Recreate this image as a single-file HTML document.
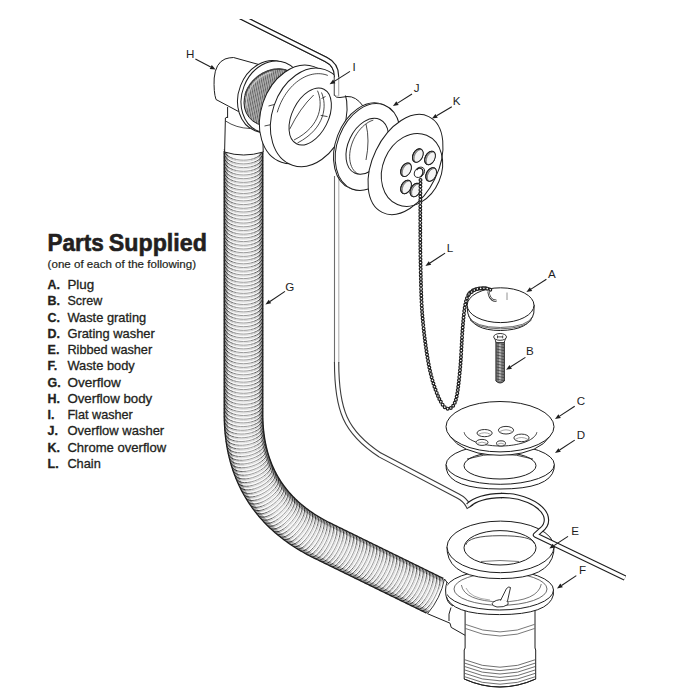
<!DOCTYPE html>
<html><head><meta charset="utf-8"><style>
html,body{margin:0;padding:0;background:#fff;width:700px;height:700px;overflow:hidden;}
svg{display:block;font-family:"Liberation Sans",sans-serif;}
</style></head><body>
<svg width="700" height="700" viewBox="0 0 700 700" font-family="Liberation Sans, sans-serif"><clipPath id="cliptop"><rect x="0" y="19" width="700" height="681"/></clipPath>
<g clip-path="url(#cliptop)"><path d="M233.4,13.1 L326,59.5 Q336.5,64.7 336.5,76 L336.5,95.5" fill="none" stroke="#1e1e1e" stroke-width="5.4" stroke-linejoin="round" stroke-linecap="butt"/><path d="M233.4,13.1 L326,59.5 Q336.5,64.7 336.5,76 L336.5,95.5" fill="none" stroke="#fff" stroke-width="3.2" stroke-linejoin="round" stroke-linecap="butt"/></g>
<path d="M334.5,176 L334.5,363" stroke="#6e6e6e" stroke-width="1.1"/><path d="M338.8,177 L338.8,363" stroke="#b0b0b0" stroke-width="1.1"/>
<g><path d="M336.6,362 C336.6,410 345,432 380,455 L458,496 Q465,499.5 468,505.5 L472,503" fill="none" stroke="#3c3c3c" stroke-width="5.4" stroke-linejoin="miter" stroke-linecap="butt"/><path d="M336.6,362 C336.6,410 345,432 380,455 L458,496 Q465,499.5 468,505.5 L472,503" fill="none" stroke="#fff" stroke-width="3.2" stroke-linejoin="miter" stroke-linecap="butt"/></g>
<path d="M243.50,151.00 L243.50,153.63 L243.50,156.26 L243.50,158.89 L243.50,161.52 L243.50,164.15 L243.50,166.78 L243.50,169.41 L243.50,172.04 L243.50,174.67 L243.50,177.30 L243.50,179.93 L243.50,182.56 L243.50,185.19 L243.50,187.82 L243.50,190.45 L243.50,193.08 L243.50,195.71 L243.50,198.34 L243.50,200.97 L243.50,203.60 L243.50,206.23 L243.50,208.86 L243.50,211.49 L243.50,214.12 L243.50,216.75 L243.50,219.38 L243.50,222.01 L243.50,224.64 L243.50,227.27 L243.50,229.90 L243.50,232.53 L243.50,235.16 L243.50,237.79 L243.50,240.42 L243.50,243.05 L243.50,245.68 L243.50,248.31 L243.50,250.94 L243.50,253.57 L243.50,256.20 L243.50,258.83 L243.50,261.46 L243.50,264.09 L243.50,266.72 L243.50,269.35 L243.50,271.98 L243.50,274.61 L243.50,277.24 L243.50,279.87 L243.50,282.50 L243.50,285.13 L243.50,287.76 L243.50,290.39 L243.50,293.02 L243.50,295.65 L243.50,298.28 L243.50,300.91 L243.50,303.54 L243.50,306.17 L243.50,308.80 L243.50,311.43 L243.50,314.06 L243.50,316.69 L243.50,319.32 L243.50,321.95 L243.50,324.58 L243.50,327.21 L243.50,329.84 L243.50,332.47 L243.50,335.10 L243.50,337.73 L243.50,340.36 L243.50,342.99 L243.50,345.62 L243.50,348.25 L243.50,350.88 L243.50,353.51 L243.50,356.14 L243.50,358.77 L243.50,361.40 L243.50,364.03 L243.50,366.66 L243.50,369.29 L243.50,371.92 L243.50,374.55 L243.50,377.18 L243.50,379.81 L243.50,382.44 L243.50,385.07 L243.50,387.70 L243.50,390.33 L243.50,392.96 L243.50,395.59 L243.50,398.22 L243.50,400.85 L243.50,403.48 L243.50,406.11 L243.50,408.74 L243.50,411.37 L243.50,414.00 L243.51,415.76 L243.53,417.50 L243.57,419.24 L243.63,420.96 L243.70,422.68 L243.78,424.38 L243.89,426.08 L244.01,427.76 L244.14,429.44 L244.29,431.11 L244.46,432.76 L244.64,434.41 L244.84,436.05 L245.05,437.67 L245.28,439.29 L245.52,440.90 L245.78,442.50 L246.06,444.08 L246.35,445.66 L246.66,447.23 L246.98,448.79 L247.32,450.33 L247.68,451.87 L248.05,453.40 L248.44,454.92 L248.84,456.43 L249.26,457.93 L249.70,459.42 L250.15,460.90 L250.61,462.36 L251.09,463.82 L251.59,465.27 L252.11,466.71 L252.64,468.14 L253.18,469.56 L253.74,470.97 L254.32,472.37 L254.91,473.76 L255.52,475.14 L256.14,476.52 L256.78,477.88 L257.44,479.23 L258.11,480.57 L258.80,481.90 L259.50,483.22 L260.22,484.53 L260.96,485.83 L261.71,487.13 L262.47,488.41 L263.26,489.68 L264.05,490.94 L264.87,492.19 L265.70,493.44 L266.54,494.67 L267.40,495.89 L268.28,497.11 L269.17,498.31 L270.08,499.50 L271.01,500.69 L271.95,501.86 L272.90,503.02 L273.88,504.18 L274.86,505.32 L275.87,506.45 L276.89,507.58 L277.92,508.69 L278.97,509.80 L280.04,510.89 L281.12,511.98 L282.22,513.05 L283.34,514.12 L284.47,515.17 L285.61,516.22 L286.77,517.25 L287.95,518.28 L289.14,519.30 L290.35,520.30 L291.58,521.30 L292.82,522.28 L294.08,523.26 L295.35,524.23 L296.64,525.18 L297.94,526.13 L299.26,527.07 L300.59,528.00 L301.95,528.91 L303.31,529.82 L304.70,530.72 L306.09,531.61 L307.51,532.48 L308.94,533.35 L310.39,534.21 L311.85,535.06 L313.33,535.90 L314.82,536.72 L316.33,537.54 L317.85,538.35 L319.39,539.15 L320.95,539.94 L322.52,540.72 L323.66,541.28 L324.79,541.83 L325.93,542.39 L327.06,542.94 L328.20,543.50 L329.33,544.06 L330.47,544.61 L331.60,545.17 L332.74,545.72 L333.87,546.28 L335.01,546.84 L336.14,547.39 L337.28,547.95 L338.41,548.50 L339.55,549.06 L340.68,549.62 L341.81,550.17 L342.95,550.73 L344.08,551.28 L345.22,551.84 L346.35,552.40 L347.49,552.95 L348.62,553.51 L349.76,554.06 L350.89,554.62 L352.03,555.18 L353.16,555.73 L354.30,556.29 L355.43,556.84 L356.57,557.40 L357.70,557.96 L358.84,558.51 L359.97,559.07 L361.11,559.62 L362.24,560.18 L363.38,560.74 L364.51,561.29 L365.64,561.85 L366.78,562.40 L367.91,562.96 L369.05,563.52 L370.18,564.07 L371.32,564.63 L372.45,565.18 L373.59,565.74 L374.72,566.30 L375.86,566.85 L376.99,567.41 L378.13,567.96 L379.26,568.52 L380.40,569.08 L381.53,569.63 L382.67,570.19 L383.80,570.74 L384.94,571.30 L386.07,571.86 L387.21,572.41 L388.34,572.97 L389.47,573.52 L390.61,574.08 L391.74,574.64 L392.88,575.19 L394.01,575.75 L395.15,576.30 L396.28,576.86 L397.42,577.42 L398.55,577.97 L399.69,578.53 L400.82,579.08 L401.96,579.64 L403.09,580.20 L404.23,580.75 L405.36,581.31 L406.50,581.86 L407.63,582.42 L408.77,582.98 L409.90,583.53 L411.04,584.09 L412.17,584.64 L413.30,585.20 L414.44,585.76 L415.57,586.31 L416.71,586.87 L417.84,587.42 L418.98,587.98 L420.11,588.54 L421.25,589.09 L422.38,589.65 L423.52,590.20 L424.65,590.76 L425.79,591.32 L426.92,591.87 L428.06,592.43 L429.19,592.98 L430.33,593.54 L431.46,594.10 L432.60,594.65 L433.73,595.21 L434.87,595.76 L436.00,596.32" fill="none" stroke="#f7f7f7" stroke-width="38.6"/>
<path d="M224.20,150.50 C225.16,165.17 261.84,165.17 262.80,150.50 M224.20,154.20 C225.16,168.87 261.84,168.87 262.80,154.20 M224.20,157.90 C225.16,172.57 261.84,172.57 262.80,157.90 M224.20,161.60 C225.16,176.27 261.84,176.27 262.80,161.60 M224.20,165.30 C225.16,179.97 261.84,179.97 262.80,165.30 M224.20,169.00 C225.16,183.67 261.84,183.67 262.80,169.00 M224.20,172.70 C225.16,187.37 261.84,187.37 262.80,172.70 M224.20,176.40 C225.16,191.07 261.84,191.07 262.80,176.40 M224.20,180.10 C225.16,194.77 261.84,194.77 262.80,180.10 M224.20,183.80 C225.16,198.47 261.84,198.47 262.80,183.80 M224.20,187.50 C225.16,202.17 261.84,202.17 262.80,187.50 M224.20,191.20 C225.16,205.87 261.84,205.87 262.80,191.20 M224.20,194.90 C225.16,209.57 261.84,209.57 262.80,194.90 M224.20,198.60 C225.16,213.27 261.84,213.27 262.80,198.60 M224.20,202.30 C225.16,216.97 261.84,216.97 262.80,202.30 M224.20,206.00 C225.16,220.67 261.84,220.67 262.80,206.00 M224.20,209.70 C225.16,224.37 261.84,224.37 262.80,209.70 M224.20,213.40 C225.16,228.07 261.84,228.07 262.80,213.40 M224.20,217.10 C225.16,231.77 261.84,231.77 262.80,217.10 M224.20,220.80 C225.16,235.47 261.84,235.47 262.80,220.80 M224.20,224.50 C225.16,239.17 261.84,239.17 262.80,224.50 M224.20,228.20 C225.16,242.87 261.84,242.87 262.80,228.20 M224.20,231.90 C225.16,246.57 261.84,246.57 262.80,231.90 M224.20,235.60 C225.16,250.27 261.84,250.27 262.80,235.60 M224.20,239.30 C225.16,253.97 261.84,253.97 262.80,239.30 M224.20,243.00 C225.16,257.67 261.84,257.67 262.80,243.00 M224.20,246.70 C225.16,261.37 261.84,261.37 262.80,246.70 M224.20,250.40 C225.16,265.07 261.84,265.07 262.80,250.40 M224.20,254.10 C225.16,268.77 261.84,268.77 262.80,254.10 M224.20,257.80 C225.16,272.47 261.84,272.47 262.80,257.80 M224.20,261.50 C225.16,276.17 261.84,276.17 262.80,261.50 M224.20,265.20 C225.16,279.87 261.84,279.87 262.80,265.20 M224.20,268.90 C225.16,283.57 261.84,283.57 262.80,268.90 M224.20,272.60 C225.16,287.27 261.84,287.27 262.80,272.60 M224.20,276.30 C225.16,290.97 261.84,290.97 262.80,276.30 M224.20,280.00 C225.16,294.67 261.84,294.67 262.80,280.00 M224.20,283.70 C225.16,298.37 261.84,298.37 262.80,283.70 M224.20,287.40 C225.16,302.07 261.84,302.07 262.80,287.40 M224.20,291.10 C225.16,305.77 261.84,305.77 262.80,291.10 M224.20,294.80 C225.16,309.47 261.84,309.47 262.80,294.80 M224.20,298.50 C225.16,313.17 261.84,313.17 262.80,298.50 M224.20,302.20 C225.16,316.87 261.84,316.87 262.80,302.20 M224.20,305.90 C225.16,320.57 261.84,320.57 262.80,305.90 M224.20,309.60 C225.16,324.27 261.84,324.27 262.80,309.60 M224.20,313.30 C225.16,327.97 261.84,327.97 262.80,313.30 M224.20,317.00 C225.16,331.67 261.84,331.67 262.80,317.00 M224.20,320.70 C225.16,335.37 261.84,335.37 262.80,320.70 M224.20,324.40 C225.16,339.07 261.84,339.07 262.80,324.40 M224.20,328.10 C225.16,342.77 261.84,342.77 262.80,328.10 M224.20,331.80 C225.16,346.47 261.84,346.47 262.80,331.80 M224.20,335.50 C225.16,350.17 261.84,350.17 262.80,335.50 M224.20,339.20 C225.16,353.87 261.84,353.87 262.80,339.20 M224.20,342.90 C225.16,357.57 261.84,357.57 262.80,342.90 M224.20,346.60 C225.16,361.27 261.84,361.27 262.80,346.60 M224.20,350.30 C225.16,364.97 261.84,364.97 262.80,350.30 M224.20,354.00 C225.16,368.67 261.84,368.67 262.80,354.00 M224.20,357.70 C225.16,372.37 261.84,372.37 262.80,357.70 M224.20,361.40 C225.16,376.07 261.84,376.07 262.80,361.40 M224.20,365.10 C225.16,379.77 261.84,379.77 262.80,365.10 M224.20,368.80 C225.16,383.47 261.84,383.47 262.80,368.80 M224.20,372.50 C225.16,387.17 261.84,387.17 262.80,372.50 M224.20,376.20 C225.16,390.87 261.84,390.87 262.80,376.20 M224.20,379.90 C225.16,394.57 261.84,394.57 262.80,379.90 M224.20,383.60 C225.16,398.27 261.84,398.27 262.80,383.60 M224.20,387.30 C225.16,401.97 261.84,401.97 262.80,387.30 M224.20,391.00 C225.16,405.67 261.84,405.67 262.80,391.00 M224.20,394.70 C225.16,409.37 261.84,409.37 262.80,394.70 M224.20,398.40 C225.16,413.07 261.84,413.07 262.80,398.40 M224.20,402.10 C225.16,416.77 261.84,416.77 262.80,402.10 M224.20,405.80 C225.16,420.47 261.84,420.47 262.80,405.80 M224.20,409.50 C225.16,424.17 261.84,424.17 262.80,409.50 M224.16,413.52 C225.37,428.17 262.04,427.56 262.76,412.88 M224.19,417.64 C225.71,432.25 262.35,430.85 262.76,416.17 M224.30,421.71 C226.10,436.28 262.71,434.18 262.84,419.50 M224.49,425.85 C226.62,440.36 263.17,437.43 262.97,422.77 M224.77,429.93 C227.19,444.38 263.68,440.72 263.18,426.09 M225.14,434.09 C227.90,448.44 264.29,443.92 263.45,429.33 M225.61,438.24 C228.71,452.49 264.98,447.09 263.79,432.56 M226.17,442.40 C229.62,456.53 265.74,450.23 264.20,435.77 M226.84,446.55 C230.63,460.54 266.58,453.34 264.69,438.97 M227.62,450.70 C231.75,464.53 267.51,456.40 265.26,442.15 M228.50,454.84 C232.98,468.49 268.51,459.43 265.90,445.30 M229.49,458.96 C234.31,472.42 269.59,462.42 266.63,448.43 M230.60,463.07 C235.76,476.31 270.76,465.36 267.44,451.54 M231.83,467.16 C237.32,480.17 272.00,468.25 268.34,454.62 M233.18,471.22 C238.99,483.97 273.32,471.10 269.32,457.67 M234.66,475.33 C240.83,487.77 274.74,473.80 270.35,460.62 M236.25,479.32 C242.72,491.47 276.22,476.55 271.51,463.60 M237.98,483.35 C244.79,495.15 277.78,479.14 272.71,466.49 M239.82,487.25 C246.90,498.73 279.41,481.77 274.04,469.39 M241.78,491.09 C249.11,502.23 281.12,484.34 275.47,472.26 M243.89,494.97 C251.50,505.70 282.89,486.75 276.94,475.02 M246.09,498.69 C253.92,509.06 284.75,489.21 278.54,477.79 M248.44,502.43 C256.50,512.37 286.65,491.50 280.18,480.46 M250.87,506.01 C259.11,515.57 288.64,493.84 281.96,483.13 M253.41,509.51 C261.80,518.69 290.70,496.11 283.83,485.75 M256.10,513.01 C264.65,521.74 292.79,498.23 285.73,488.27 M258.85,516.35 C267.51,524.68 294.97,500.38 287.76,490.77 M261.70,519.60 C270.45,527.54 297.22,502.47 289.87,493.22 M264.69,522.83 C273.52,530.32 299.48,504.42 292.01,495.57 M267.71,525.90 C276.60,533.00 301.83,506.39 294.28,497.90 M270.82,528.88 C279.73,535.59 304.24,508.31 296.62,500.16 M274.01,531.76 C282.93,538.09 306.70,510.17 299.03,502.37 M277.26,534.55 C286.18,540.51 309.21,511.97 301.51,504.51 M280.59,537.24 C289.48,542.84 311.77,513.72 304.05,506.59 M283.97,539.84 C292.83,545.08 314.38,515.41 306.65,508.61 M287.41,542.35 C296.22,547.25 317.03,517.05 309.32,510.57 M290.91,544.77 C299.65,549.33 319.72,518.64 312.03,512.46 M294.45,547.10 C303.12,551.34 322.45,520.18 314.80,514.30 M297.97,549.29 C306.57,553.27 325.28,521.73 317.67,516.09 M301.60,551.44 C310.10,555.12 328.09,523.17 320.54,517.81 M305.20,553.47 C313.61,556.90 330.99,524.62 323.50,519.49 M308.90,555.46 C317.19,558.62 333.87,525.96 326.45,521.09 M312.53,557.32 C320.74,560.26 336.87,527.33 329.51,522.65 M315.85,558.94 C324.06,561.89 340.20,528.96 332.84,524.28 M319.18,560.57 C327.38,563.52 343.52,530.59 336.16,525.91 M322.50,562.20 C330.71,565.15 346.84,532.22 339.48,527.54 M325.82,563.83 C334.03,566.77 350.16,533.84 342.80,529.16 M329.14,565.46 C337.35,568.40 353.49,535.47 346.13,530.79 M332.47,567.08 C340.67,570.03 356.81,537.10 349.45,532.42 M335.79,568.71 C344.00,571.66 360.13,538.73 352.77,534.05 M339.11,570.34 C347.32,573.29 363.45,540.36 356.10,535.68 M342.43,571.97 C350.64,574.91 366.78,541.98 359.42,537.30 M345.76,573.60 C353.96,576.54 370.10,543.61 362.74,538.93 M349.08,575.22 C357.29,578.17 373.42,545.24 366.06,540.56 M352.40,576.85 C360.61,579.80 376.74,546.87 369.39,542.19 M355.72,578.48 C363.93,581.43 380.07,548.50 372.71,543.82 M359.05,580.11 C367.25,583.05 383.39,550.12 376.03,545.44 M362.37,581.74 C370.58,584.68 386.71,551.75 379.35,547.07 M365.69,583.36 C373.90,586.31 390.03,553.38 382.68,548.70 M369.01,584.99 C377.22,587.94 393.36,555.01 386.00,550.33 M372.34,586.62 C380.54,589.57 396.68,556.64 389.32,551.96 M375.66,588.25 C383.87,591.19 400.00,558.26 392.64,553.58 M378.98,589.88 C387.19,592.82 403.32,559.89 395.97,555.21 M382.30,591.50 C390.51,594.45 406.65,561.52 399.29,556.84 M385.63,593.13 C393.83,596.08 409.97,563.15 402.61,558.47 M388.95,594.76 C397.16,597.71 413.29,564.78 405.93,560.10 M392.27,596.39 C400.48,599.33 416.61,566.40 409.26,561.72 M395.60,598.02 C403.80,600.96 419.94,568.03 412.58,563.35 M398.92,599.64 C407.13,602.59 423.26,569.66 415.90,564.98 M402.24,601.27 C410.45,604.22 426.58,571.29 419.22,566.61 M405.56,602.90 C413.77,605.85 429.91,572.92 422.55,568.24 M408.89,604.53 C417.09,607.47 433.23,574.54 425.87,569.86 M412.21,606.16 C420.42,609.10 436.55,576.17 429.19,571.49 M415.53,607.78 C423.74,610.73 439.87,577.80 432.51,573.12 M418.85,609.41 C427.06,612.36 443.20,579.43 435.84,574.75 M422.18,611.04 C430.38,613.99 446.52,581.06 439.16,576.38 M425.50,612.67 C433.71,615.61 449.84,582.68 442.48,578.00" fill="none" stroke="#a8a8a8" stroke-width="0.8"/>
<path d="M224.20,149.20 C225.16,163.87 261.84,163.87 262.80,149.20 M224.20,152.90 C225.16,167.57 261.84,167.57 262.80,152.90 M224.20,156.60 C225.16,171.27 261.84,171.27 262.80,156.60 M224.20,160.30 C225.16,174.97 261.84,174.97 262.80,160.30 M224.20,164.00 C225.16,178.67 261.84,178.67 262.80,164.00 M224.20,167.70 C225.16,182.37 261.84,182.37 262.80,167.70 M224.20,171.40 C225.16,186.07 261.84,186.07 262.80,171.40 M224.20,175.10 C225.16,189.77 261.84,189.77 262.80,175.10 M224.20,178.80 C225.16,193.47 261.84,193.47 262.80,178.80 M224.20,182.50 C225.16,197.17 261.84,197.17 262.80,182.50 M224.20,186.20 C225.16,200.87 261.84,200.87 262.80,186.20 M224.20,189.90 C225.16,204.57 261.84,204.57 262.80,189.90 M224.20,193.60 C225.16,208.27 261.84,208.27 262.80,193.60 M224.20,197.30 C225.16,211.97 261.84,211.97 262.80,197.30 M224.20,201.00 C225.16,215.67 261.84,215.67 262.80,201.00 M224.20,204.70 C225.16,219.37 261.84,219.37 262.80,204.70 M224.20,208.40 C225.16,223.07 261.84,223.07 262.80,208.40 M224.20,212.10 C225.16,226.77 261.84,226.77 262.80,212.10 M224.20,215.80 C225.16,230.47 261.84,230.47 262.80,215.80 M224.20,219.50 C225.16,234.17 261.84,234.17 262.80,219.50 M224.20,223.20 C225.16,237.87 261.84,237.87 262.80,223.20 M224.20,226.90 C225.16,241.57 261.84,241.57 262.80,226.90 M224.20,230.60 C225.16,245.27 261.84,245.27 262.80,230.60 M224.20,234.30 C225.16,248.97 261.84,248.97 262.80,234.30 M224.20,238.00 C225.16,252.67 261.84,252.67 262.80,238.00 M224.20,241.70 C225.16,256.37 261.84,256.37 262.80,241.70 M224.20,245.40 C225.16,260.07 261.84,260.07 262.80,245.40 M224.20,249.10 C225.16,263.77 261.84,263.77 262.80,249.10 M224.20,252.80 C225.16,267.47 261.84,267.47 262.80,252.80 M224.20,256.50 C225.16,271.17 261.84,271.17 262.80,256.50 M224.20,260.20 C225.16,274.87 261.84,274.87 262.80,260.20 M224.20,263.90 C225.16,278.57 261.84,278.57 262.80,263.90 M224.20,267.60 C225.16,282.27 261.84,282.27 262.80,267.60 M224.20,271.30 C225.16,285.97 261.84,285.97 262.80,271.30 M224.20,275.00 C225.16,289.67 261.84,289.67 262.80,275.00 M224.20,278.70 C225.16,293.37 261.84,293.37 262.80,278.70 M224.20,282.40 C225.16,297.07 261.84,297.07 262.80,282.40 M224.20,286.10 C225.16,300.77 261.84,300.77 262.80,286.10 M224.20,289.80 C225.16,304.47 261.84,304.47 262.80,289.80 M224.20,293.50 C225.16,308.17 261.84,308.17 262.80,293.50 M224.20,297.20 C225.16,311.87 261.84,311.87 262.80,297.20 M224.20,300.90 C225.16,315.57 261.84,315.57 262.80,300.90 M224.20,304.60 C225.16,319.27 261.84,319.27 262.80,304.60 M224.20,308.30 C225.16,322.97 261.84,322.97 262.80,308.30 M224.20,312.00 C225.16,326.67 261.84,326.67 262.80,312.00 M224.20,315.70 C225.16,330.37 261.84,330.37 262.80,315.70 M224.20,319.40 C225.16,334.07 261.84,334.07 262.80,319.40 M224.20,323.10 C225.16,337.77 261.84,337.77 262.80,323.10 M224.20,326.80 C225.16,341.47 261.84,341.47 262.80,326.80 M224.20,330.50 C225.16,345.17 261.84,345.17 262.80,330.50 M224.20,334.20 C225.16,348.87 261.84,348.87 262.80,334.20 M224.20,337.90 C225.16,352.57 261.84,352.57 262.80,337.90 M224.20,341.60 C225.16,356.27 261.84,356.27 262.80,341.60 M224.20,345.30 C225.16,359.97 261.84,359.97 262.80,345.30 M224.20,349.00 C225.16,363.67 261.84,363.67 262.80,349.00 M224.20,352.70 C225.16,367.37 261.84,367.37 262.80,352.70 M224.20,356.40 C225.16,371.07 261.84,371.07 262.80,356.40 M224.20,360.10 C225.16,374.77 261.84,374.77 262.80,360.10 M224.20,363.80 C225.16,378.47 261.84,378.47 262.80,363.80 M224.20,367.50 C225.16,382.17 261.84,382.17 262.80,367.50 M224.20,371.20 C225.16,385.87 261.84,385.87 262.80,371.20 M224.20,374.90 C225.16,389.57 261.84,389.57 262.80,374.90 M224.20,378.60 C225.16,393.27 261.84,393.27 262.80,378.60 M224.20,382.30 C225.16,396.97 261.84,396.97 262.80,382.30 M224.20,386.00 C225.16,400.67 261.84,400.67 262.80,386.00 M224.20,389.70 C225.16,404.37 261.84,404.37 262.80,389.70 M224.20,393.40 C225.16,408.07 261.84,408.07 262.80,393.40 M224.20,397.10 C225.16,411.77 261.84,411.77 262.80,397.10 M224.20,400.80 C225.16,415.47 261.84,415.47 262.80,400.80 M224.20,404.50 C225.16,419.17 261.84,419.17 262.80,404.50 M224.20,408.20 C225.16,422.87 261.84,422.87 262.80,408.20 M224.14,412.22 C225.35,426.87 262.01,426.26 262.74,411.58 M224.14,416.34 C225.66,430.96 262.30,429.55 262.71,414.87 M224.23,420.41 C226.03,434.98 262.64,432.88 262.76,418.20 M224.38,424.56 C226.52,439.07 263.07,436.14 262.86,421.47 M224.64,428.64 C227.06,443.09 263.55,439.43 263.05,424.79 M224.98,432.80 C227.74,447.15 264.13,442.63 263.29,428.04 M225.42,436.96 C228.51,451.21 264.78,445.81 263.60,431.27 M225.95,441.12 C229.39,455.25 265.52,448.95 263.98,434.49 M226.59,445.28 C230.37,459.27 266.33,452.06 264.43,437.70 M227.33,449.43 C231.46,463.26 267.22,455.14 264.97,440.88 M228.18,453.58 C232.65,467.23 268.19,458.17 265.58,444.04 M229.14,457.71 C233.96,471.17 269.24,461.17 266.28,447.18 M230.22,461.83 C235.37,475.07 270.37,464.12 267.05,450.30 M231.41,465.93 C236.90,478.94 271.58,467.02 267.91,453.39 M232.72,470.00 C238.53,482.75 272.87,469.88 268.86,456.45 M234.16,474.12 C240.33,486.57 274.24,472.60 269.85,459.42 M235.72,478.13 C242.19,490.28 275.69,475.36 270.98,462.42 M237.42,482.18 C244.22,493.98 277.21,477.97 272.14,465.32 M239.22,486.09 C246.30,497.57 278.81,480.61 273.44,468.24 M241.14,489.96 C248.48,501.10 280.49,483.20 274.83,471.12 M243.22,493.85 C250.83,504.59 282.22,485.64 276.26,473.91 M245.38,497.60 C253.21,507.97 284.04,488.12 277.84,476.70 M247.70,501.36 C255.76,511.30 285.91,490.44 279.44,479.39 M250.10,504.96 C258.33,514.52 287.87,492.79 281.19,482.08 M252.61,508.49 C261.00,517.66 289.90,495.09 283.03,484.72 M255.27,512.02 C263.82,520.74 291.96,497.23 284.89,487.27 M257.99,515.38 C266.65,523.71 294.11,499.41 286.90,489.80 M260.81,518.65 C269.56,526.59 296.33,501.52 288.98,492.27 M263.77,521.91 C272.60,529.40 298.56,503.49 291.09,494.65 M266.77,525.01 C275.65,532.10 300.89,505.50 293.34,497.00 M269.86,528.01 C278.77,534.72 303.27,507.44 295.65,499.29 M273.02,530.92 C281.94,537.25 305.71,509.32 298.04,501.52 M276.25,533.73 C285.17,539.69 308.20,511.15 300.50,503.69 M279.56,536.45 C288.45,542.05 310.74,512.93 303.02,505.80 M282.92,539.08 C291.78,544.32 313.33,514.65 305.60,507.85 M286.34,541.61 C295.15,546.51 315.96,516.32 308.25,509.83 M289.82,544.06 C298.56,548.62 318.63,517.93 310.95,511.75 M293.35,546.41 C302.01,550.65 321.35,519.50 313.70,513.61 M296.86,548.63 C305.45,552.60 324.16,521.07 316.56,515.43 M300.47,550.81 C308.97,554.48 326.96,522.53 319.41,517.17 M304.06,552.86 C312.47,556.29 329.85,524.00 322.36,518.87 M307.74,554.87 C316.04,558.02 332.72,525.37 325.30,520.49 M311.36,556.74 C319.57,559.69 335.71,526.76 328.35,522.08 M314.69,558.37 C322.89,561.32 339.03,528.39 331.67,523.71 M318.01,560.00 C326.22,562.95 342.35,530.02 334.99,525.34 M321.33,561.63 C329.54,564.57 345.67,531.64 338.31,526.96 M324.65,563.26 C332.86,566.20 349.00,533.27 341.64,528.59 M327.98,564.88 C336.18,567.83 352.32,534.90 344.96,530.22 M331.30,566.51 C339.51,569.46 355.64,536.53 348.28,531.85 M334.62,568.14 C342.83,571.09 358.96,538.16 351.61,533.48 M337.94,569.77 C346.15,572.71 362.29,539.78 354.93,535.10 M341.27,571.40 C349.47,574.34 365.61,541.41 358.25,536.73 M344.59,573.02 C352.80,575.97 368.93,543.04 361.57,538.36 M347.91,574.65 C356.12,577.60 372.25,544.67 364.90,539.99 M351.23,576.28 C359.44,579.23 375.58,546.30 368.22,541.62 M354.56,577.91 C362.76,580.85 378.90,547.92 371.54,543.24 M357.88,579.54 C366.09,582.48 382.22,549.55 374.86,544.87 M361.20,581.16 C369.41,584.11 385.54,551.18 378.19,546.50 M364.52,582.79 C372.73,585.74 388.87,552.81 381.51,548.13 M367.85,584.42 C376.05,587.37 392.19,554.44 384.83,549.76 M371.17,586.05 C379.38,588.99 395.51,556.06 388.15,551.38 M374.49,587.68 C382.70,590.62 398.83,557.69 391.48,553.01 M377.81,589.30 C386.02,592.25 402.16,559.32 394.80,554.64 M381.14,590.93 C389.34,593.88 405.48,560.95 398.12,556.27 M384.46,592.56 C392.67,595.51 408.80,562.58 401.44,557.90 M387.78,594.19 C395.99,597.13 412.12,564.20 404.77,559.52 M391.11,595.82 C399.31,598.76 415.45,565.83 408.09,561.15 M394.43,597.44 C402.64,600.39 418.77,567.46 411.41,562.78 M397.75,599.07 C405.96,602.02 422.09,569.09 414.73,564.41 M401.07,600.70 C409.28,603.65 425.42,570.72 418.06,566.04 M404.40,602.33 C412.60,605.27 428.74,572.34 421.38,567.66 M407.72,603.96 C415.93,606.90 432.06,573.97 424.70,569.29 M411.04,605.58 C419.25,608.53 435.38,575.60 428.02,570.92 M414.36,607.21 C422.57,610.16 438.71,577.23 431.35,572.55 M417.69,608.84 C425.89,611.79 442.03,578.86 434.67,574.18 M421.01,610.47 C429.22,613.41 445.35,580.48 437.99,575.80 M424.33,612.10 C432.54,615.04 448.67,582.11 441.32,577.43" fill="none" stroke="#262626" stroke-width="0.9"/>
<path d="M243.50,151.00 L243.50,153.63 L243.50,156.26 L243.50,158.89 L243.50,161.52 L243.50,164.15 L243.50,166.78 L243.50,169.41 L243.50,172.04 L243.50,174.67 L243.50,177.30 L243.50,179.93 L243.50,182.56 L243.50,185.19 L243.50,187.82 L243.50,190.45 L243.50,193.08 L243.50,195.71 L243.50,198.34 L243.50,200.97 L243.50,203.60 L243.50,206.23 L243.50,208.86 L243.50,211.49 L243.50,214.12 L243.50,216.75 L243.50,219.38 L243.50,222.01 L243.50,224.64 L243.50,227.27 L243.50,229.90 L243.50,232.53 L243.50,235.16 L243.50,237.79 L243.50,240.42 L243.50,243.05 L243.50,245.68 L243.50,248.31 L243.50,250.94 L243.50,253.57 L243.50,256.20 L243.50,258.83 L243.50,261.46 L243.50,264.09 L243.50,266.72 L243.50,269.35 L243.50,271.98 L243.50,274.61 L243.50,277.24 L243.50,279.87 L243.50,282.50 L243.50,285.13 L243.50,287.76 L243.50,290.39 L243.50,293.02 L243.50,295.65 L243.50,298.28 L243.50,300.91 L243.50,303.54 L243.50,306.17 L243.50,308.80 L243.50,311.43 L243.50,314.06 L243.50,316.69 L243.50,319.32 L243.50,321.95 L243.50,324.58 L243.50,327.21 L243.50,329.84 L243.50,332.47 L243.50,335.10 L243.50,337.73 L243.50,340.36 L243.50,342.99 L243.50,345.62 L243.50,348.25 L243.50,350.88 L243.50,353.51 L243.50,356.14 L243.50,358.77 L243.50,361.40 L243.50,364.03 L243.50,366.66 L243.50,369.29 L243.50,371.92 L243.50,374.55 L243.50,377.18 L243.50,379.81 L243.50,382.44 L243.50,385.07 L243.50,387.70 L243.50,390.33 L243.50,392.96 L243.50,395.59 L243.50,398.22 L243.50,400.85 L243.50,403.48 L243.50,406.11 L243.50,408.74 L243.50,411.37 L243.50,414.00 L243.51,415.76 L243.53,417.50 L243.57,419.24 L243.63,420.96 L243.70,422.68 L243.78,424.38 L243.89,426.08 L244.01,427.76 L244.14,429.44 L244.29,431.11 L244.46,432.76 L244.64,434.41 L244.84,436.05 L245.05,437.67 L245.28,439.29 L245.52,440.90 L245.78,442.50 L246.06,444.08 L246.35,445.66 L246.66,447.23 L246.98,448.79 L247.32,450.33 L247.68,451.87 L248.05,453.40 L248.44,454.92 L248.84,456.43 L249.26,457.93 L249.70,459.42 L250.15,460.90 L250.61,462.36 L251.09,463.82 L251.59,465.27 L252.11,466.71 L252.64,468.14 L253.18,469.56 L253.74,470.97 L254.32,472.37 L254.91,473.76 L255.52,475.14 L256.14,476.52 L256.78,477.88 L257.44,479.23 L258.11,480.57 L258.80,481.90 L259.50,483.22 L260.22,484.53 L260.96,485.83 L261.71,487.13 L262.47,488.41 L263.26,489.68 L264.05,490.94 L264.87,492.19 L265.70,493.44 L266.54,494.67 L267.40,495.89 L268.28,497.11 L269.17,498.31 L270.08,499.50 L271.01,500.69 L271.95,501.86 L272.90,503.02 L273.88,504.18 L274.86,505.32 L275.87,506.45 L276.89,507.58 L277.92,508.69 L278.97,509.80 L280.04,510.89 L281.12,511.98 L282.22,513.05 L283.34,514.12 L284.47,515.17 L285.61,516.22 L286.77,517.25 L287.95,518.28 L289.14,519.30 L290.35,520.30 L291.58,521.30 L292.82,522.28 L294.08,523.26 L295.35,524.23 L296.64,525.18 L297.94,526.13 L299.26,527.07 L300.59,528.00 L301.95,528.91 L303.31,529.82 L304.70,530.72 L306.09,531.61 L307.51,532.48 L308.94,533.35 L310.39,534.21 L311.85,535.06 L313.33,535.90 L314.82,536.72 L316.33,537.54 L317.85,538.35 L319.39,539.15 L320.95,539.94 L322.52,540.72 L323.66,541.28 L324.79,541.83 L325.93,542.39 L327.06,542.94 L328.20,543.50 L329.33,544.06 L330.47,544.61 L331.60,545.17 L332.74,545.72 L333.87,546.28 L335.01,546.84 L336.14,547.39 L337.28,547.95 L338.41,548.50 L339.55,549.06 L340.68,549.62 L341.81,550.17 L342.95,550.73 L344.08,551.28 L345.22,551.84 L346.35,552.40 L347.49,552.95 L348.62,553.51 L349.76,554.06 L350.89,554.62 L352.03,555.18 L353.16,555.73 L354.30,556.29 L355.43,556.84 L356.57,557.40 L357.70,557.96 L358.84,558.51 L359.97,559.07 L361.11,559.62 L362.24,560.18 L363.38,560.74 L364.51,561.29 L365.64,561.85 L366.78,562.40 L367.91,562.96 L369.05,563.52 L370.18,564.07 L371.32,564.63 L372.45,565.18 L373.59,565.74 L374.72,566.30 L375.86,566.85 L376.99,567.41 L378.13,567.96 L379.26,568.52 L380.40,569.08 L381.53,569.63 L382.67,570.19 L383.80,570.74 L384.94,571.30 L386.07,571.86 L387.21,572.41 L388.34,572.97 L389.47,573.52 L390.61,574.08 L391.74,574.64 L392.88,575.19 L394.01,575.75 L395.15,576.30 L396.28,576.86 L397.42,577.42 L398.55,577.97 L399.69,578.53 L400.82,579.08 L401.96,579.64 L403.09,580.20 L404.23,580.75 L405.36,581.31 L406.50,581.86 L407.63,582.42 L408.77,582.98 L409.90,583.53 L411.04,584.09 L412.17,584.64 L413.30,585.20 L414.44,585.76 L415.57,586.31 L416.71,586.87 L417.84,587.42 L418.98,587.98 L420.11,588.54 L421.25,589.09 L422.38,589.65 L423.52,590.20 L424.65,590.76 L425.79,591.32 L426.92,591.87 L428.06,592.43 L429.19,592.98 L430.33,593.54 L431.46,594.10 L432.60,594.65 L433.73,595.21 L434.87,595.76 L436.00,596.32" fill="none" stroke="#fff" stroke-opacity="0.2" stroke-width="30"/>
<path d="M243.50,151.00 L243.50,153.63 L243.50,156.26 L243.50,158.89 L243.50,161.52 L243.50,164.15 L243.50,166.78 L243.50,169.41 L243.50,172.04 L243.50,174.67 L243.50,177.30 L243.50,179.93 L243.50,182.56 L243.50,185.19 L243.50,187.82 L243.50,190.45 L243.50,193.08 L243.50,195.71 L243.50,198.34 L243.50,200.97 L243.50,203.60 L243.50,206.23 L243.50,208.86 L243.50,211.49 L243.50,214.12 L243.50,216.75 L243.50,219.38 L243.50,222.01 L243.50,224.64 L243.50,227.27 L243.50,229.90 L243.50,232.53 L243.50,235.16 L243.50,237.79 L243.50,240.42 L243.50,243.05 L243.50,245.68 L243.50,248.31 L243.50,250.94 L243.50,253.57 L243.50,256.20 L243.50,258.83 L243.50,261.46 L243.50,264.09 L243.50,266.72 L243.50,269.35 L243.50,271.98 L243.50,274.61 L243.50,277.24 L243.50,279.87 L243.50,282.50 L243.50,285.13 L243.50,287.76 L243.50,290.39 L243.50,293.02 L243.50,295.65 L243.50,298.28 L243.50,300.91 L243.50,303.54 L243.50,306.17 L243.50,308.80 L243.50,311.43 L243.50,314.06 L243.50,316.69 L243.50,319.32 L243.50,321.95 L243.50,324.58 L243.50,327.21 L243.50,329.84 L243.50,332.47 L243.50,335.10 L243.50,337.73 L243.50,340.36 L243.50,342.99 L243.50,345.62 L243.50,348.25 L243.50,350.88 L243.50,353.51 L243.50,356.14 L243.50,358.77 L243.50,361.40 L243.50,364.03 L243.50,366.66 L243.50,369.29 L243.50,371.92 L243.50,374.55 L243.50,377.18 L243.50,379.81 L243.50,382.44 L243.50,385.07 L243.50,387.70 L243.50,390.33 L243.50,392.96 L243.50,395.59 L243.50,398.22 L243.50,400.85 L243.50,403.48 L243.50,406.11 L243.50,408.74 L243.50,411.37 L243.50,414.00 L243.51,415.76 L243.53,417.50 L243.57,419.24 L243.63,420.96 L243.70,422.68 L243.78,424.38 L243.89,426.08 L244.01,427.76 L244.14,429.44 L244.29,431.11 L244.46,432.76 L244.64,434.41 L244.84,436.05 L245.05,437.67 L245.28,439.29 L245.52,440.90 L245.78,442.50 L246.06,444.08 L246.35,445.66 L246.66,447.23 L246.98,448.79 L247.32,450.33 L247.68,451.87 L248.05,453.40 L248.44,454.92 L248.84,456.43 L249.26,457.93 L249.70,459.42 L250.15,460.90 L250.61,462.36 L251.09,463.82 L251.59,465.27 L252.11,466.71 L252.64,468.14 L253.18,469.56 L253.74,470.97 L254.32,472.37 L254.91,473.76 L255.52,475.14 L256.14,476.52 L256.78,477.88 L257.44,479.23 L258.11,480.57 L258.80,481.90 L259.50,483.22 L260.22,484.53 L260.96,485.83 L261.71,487.13 L262.47,488.41 L263.26,489.68 L264.05,490.94 L264.87,492.19 L265.70,493.44 L266.54,494.67 L267.40,495.89 L268.28,497.11 L269.17,498.31 L270.08,499.50 L271.01,500.69 L271.95,501.86 L272.90,503.02 L273.88,504.18 L274.86,505.32 L275.87,506.45 L276.89,507.58 L277.92,508.69 L278.97,509.80 L280.04,510.89 L281.12,511.98 L282.22,513.05 L283.34,514.12 L284.47,515.17 L285.61,516.22 L286.77,517.25 L287.95,518.28 L289.14,519.30 L290.35,520.30 L291.58,521.30 L292.82,522.28 L294.08,523.26 L295.35,524.23 L296.64,525.18 L297.94,526.13 L299.26,527.07 L300.59,528.00 L301.95,528.91 L303.31,529.82 L304.70,530.72 L306.09,531.61 L307.51,532.48 L308.94,533.35 L310.39,534.21 L311.85,535.06 L313.33,535.90 L314.82,536.72 L316.33,537.54 L317.85,538.35 L319.39,539.15 L320.95,539.94 L322.52,540.72 L323.66,541.28 L324.79,541.83 L325.93,542.39 L327.06,542.94 L328.20,543.50 L329.33,544.06 L330.47,544.61 L331.60,545.17 L332.74,545.72 L333.87,546.28 L335.01,546.84 L336.14,547.39 L337.28,547.95 L338.41,548.50 L339.55,549.06 L340.68,549.62 L341.81,550.17 L342.95,550.73 L344.08,551.28 L345.22,551.84 L346.35,552.40 L347.49,552.95 L348.62,553.51 L349.76,554.06 L350.89,554.62 L352.03,555.18 L353.16,555.73 L354.30,556.29 L355.43,556.84 L356.57,557.40 L357.70,557.96 L358.84,558.51 L359.97,559.07 L361.11,559.62 L362.24,560.18 L363.38,560.74 L364.51,561.29 L365.64,561.85 L366.78,562.40 L367.91,562.96 L369.05,563.52 L370.18,564.07 L371.32,564.63 L372.45,565.18 L373.59,565.74 L374.72,566.30 L375.86,566.85 L376.99,567.41 L378.13,567.96 L379.26,568.52 L380.40,569.08 L381.53,569.63 L382.67,570.19 L383.80,570.74 L384.94,571.30 L386.07,571.86 L387.21,572.41 L388.34,572.97 L389.47,573.52 L390.61,574.08 L391.74,574.64 L392.88,575.19 L394.01,575.75 L395.15,576.30 L396.28,576.86 L397.42,577.42 L398.55,577.97 L399.69,578.53 L400.82,579.08 L401.96,579.64 L403.09,580.20 L404.23,580.75 L405.36,581.31 L406.50,581.86 L407.63,582.42 L408.77,582.98 L409.90,583.53 L411.04,584.09 L412.17,584.64 L413.30,585.20 L414.44,585.76 L415.57,586.31 L416.71,586.87 L417.84,587.42 L418.98,587.98 L420.11,588.54 L421.25,589.09 L422.38,589.65 L423.52,590.20 L424.65,590.76 L425.79,591.32 L426.92,591.87 L428.06,592.43 L429.19,592.98 L430.33,593.54 L431.46,594.10 L432.60,594.65 L433.73,595.21 L434.87,595.76 L436.00,596.32" fill="none" stroke="#fff" stroke-opacity="0.22" stroke-width="22"/>
<path d="M243.50,151.00 L243.50,153.63 L243.50,156.26 L243.50,158.89 L243.50,161.52 L243.50,164.15 L243.50,166.78 L243.50,169.41 L243.50,172.04 L243.50,174.67 L243.50,177.30 L243.50,179.93 L243.50,182.56 L243.50,185.19 L243.50,187.82 L243.50,190.45 L243.50,193.08 L243.50,195.71 L243.50,198.34 L243.50,200.97 L243.50,203.60 L243.50,206.23 L243.50,208.86 L243.50,211.49 L243.50,214.12 L243.50,216.75 L243.50,219.38 L243.50,222.01 L243.50,224.64 L243.50,227.27 L243.50,229.90 L243.50,232.53 L243.50,235.16 L243.50,237.79 L243.50,240.42 L243.50,243.05 L243.50,245.68 L243.50,248.31 L243.50,250.94 L243.50,253.57 L243.50,256.20 L243.50,258.83 L243.50,261.46 L243.50,264.09 L243.50,266.72 L243.50,269.35 L243.50,271.98 L243.50,274.61 L243.50,277.24 L243.50,279.87 L243.50,282.50 L243.50,285.13 L243.50,287.76 L243.50,290.39 L243.50,293.02 L243.50,295.65 L243.50,298.28 L243.50,300.91 L243.50,303.54 L243.50,306.17 L243.50,308.80 L243.50,311.43 L243.50,314.06 L243.50,316.69 L243.50,319.32 L243.50,321.95 L243.50,324.58 L243.50,327.21 L243.50,329.84 L243.50,332.47 L243.50,335.10 L243.50,337.73 L243.50,340.36 L243.50,342.99 L243.50,345.62 L243.50,348.25 L243.50,350.88 L243.50,353.51 L243.50,356.14 L243.50,358.77 L243.50,361.40 L243.50,364.03 L243.50,366.66 L243.50,369.29 L243.50,371.92 L243.50,374.55 L243.50,377.18 L243.50,379.81 L243.50,382.44 L243.50,385.07 L243.50,387.70 L243.50,390.33 L243.50,392.96 L243.50,395.59 L243.50,398.22 L243.50,400.85 L243.50,403.48 L243.50,406.11 L243.50,408.74 L243.50,411.37 L243.50,414.00 L243.51,415.76 L243.53,417.50 L243.57,419.24 L243.63,420.96 L243.70,422.68 L243.78,424.38 L243.89,426.08 L244.01,427.76 L244.14,429.44 L244.29,431.11 L244.46,432.76 L244.64,434.41 L244.84,436.05 L245.05,437.67 L245.28,439.29 L245.52,440.90 L245.78,442.50 L246.06,444.08 L246.35,445.66 L246.66,447.23 L246.98,448.79 L247.32,450.33 L247.68,451.87 L248.05,453.40 L248.44,454.92 L248.84,456.43 L249.26,457.93 L249.70,459.42 L250.15,460.90 L250.61,462.36 L251.09,463.82 L251.59,465.27 L252.11,466.71 L252.64,468.14 L253.18,469.56 L253.74,470.97 L254.32,472.37 L254.91,473.76 L255.52,475.14 L256.14,476.52 L256.78,477.88 L257.44,479.23 L258.11,480.57 L258.80,481.90 L259.50,483.22 L260.22,484.53 L260.96,485.83 L261.71,487.13 L262.47,488.41 L263.26,489.68 L264.05,490.94 L264.87,492.19 L265.70,493.44 L266.54,494.67 L267.40,495.89 L268.28,497.11 L269.17,498.31 L270.08,499.50 L271.01,500.69 L271.95,501.86 L272.90,503.02 L273.88,504.18 L274.86,505.32 L275.87,506.45 L276.89,507.58 L277.92,508.69 L278.97,509.80 L280.04,510.89 L281.12,511.98 L282.22,513.05 L283.34,514.12 L284.47,515.17 L285.61,516.22 L286.77,517.25 L287.95,518.28 L289.14,519.30 L290.35,520.30 L291.58,521.30 L292.82,522.28 L294.08,523.26 L295.35,524.23 L296.64,525.18 L297.94,526.13 L299.26,527.07 L300.59,528.00 L301.95,528.91 L303.31,529.82 L304.70,530.72 L306.09,531.61 L307.51,532.48 L308.94,533.35 L310.39,534.21 L311.85,535.06 L313.33,535.90 L314.82,536.72 L316.33,537.54 L317.85,538.35 L319.39,539.15 L320.95,539.94 L322.52,540.72 L323.66,541.28 L324.79,541.83 L325.93,542.39 L327.06,542.94 L328.20,543.50 L329.33,544.06 L330.47,544.61 L331.60,545.17 L332.74,545.72 L333.87,546.28 L335.01,546.84 L336.14,547.39 L337.28,547.95 L338.41,548.50 L339.55,549.06 L340.68,549.62 L341.81,550.17 L342.95,550.73 L344.08,551.28 L345.22,551.84 L346.35,552.40 L347.49,552.95 L348.62,553.51 L349.76,554.06 L350.89,554.62 L352.03,555.18 L353.16,555.73 L354.30,556.29 L355.43,556.84 L356.57,557.40 L357.70,557.96 L358.84,558.51 L359.97,559.07 L361.11,559.62 L362.24,560.18 L363.38,560.74 L364.51,561.29 L365.64,561.85 L366.78,562.40 L367.91,562.96 L369.05,563.52 L370.18,564.07 L371.32,564.63 L372.45,565.18 L373.59,565.74 L374.72,566.30 L375.86,566.85 L376.99,567.41 L378.13,567.96 L379.26,568.52 L380.40,569.08 L381.53,569.63 L382.67,570.19 L383.80,570.74 L384.94,571.30 L386.07,571.86 L387.21,572.41 L388.34,572.97 L389.47,573.52 L390.61,574.08 L391.74,574.64 L392.88,575.19 L394.01,575.75 L395.15,576.30 L396.28,576.86 L397.42,577.42 L398.55,577.97 L399.69,578.53 L400.82,579.08 L401.96,579.64 L403.09,580.20 L404.23,580.75 L405.36,581.31 L406.50,581.86 L407.63,582.42 L408.77,582.98 L409.90,583.53 L411.04,584.09 L412.17,584.64 L413.30,585.20 L414.44,585.76 L415.57,586.31 L416.71,586.87 L417.84,587.42 L418.98,587.98 L420.11,588.54 L421.25,589.09 L422.38,589.65 L423.52,590.20 L424.65,590.76 L425.79,591.32 L426.92,591.87 L428.06,592.43 L429.19,592.98 L430.33,593.54 L431.46,594.10 L432.60,594.65 L433.73,595.21 L434.87,595.76 L436.00,596.32" fill="none" stroke="#fff" stroke-opacity="0.2" stroke-width="14"/>
<path d="M226.20,151.00 L226.20,153.63 L226.20,156.26 L226.20,158.89 L226.20,161.52 L226.20,164.15 L226.20,166.78 L226.20,169.41 L226.20,172.04 L226.20,174.67 L226.20,177.30 L226.20,179.93 L226.20,182.56 L226.20,185.19 L226.20,187.82 L226.20,190.45 L226.20,193.08 L226.20,195.71 L226.20,198.34 L226.20,200.97 L226.20,203.60 L226.20,206.23 L226.20,208.86 L226.20,211.49 L226.20,214.12 L226.20,216.75 L226.20,219.38 L226.20,222.01 L226.20,224.64 L226.20,227.27 L226.20,229.90 L226.20,232.53 L226.20,235.16 L226.20,237.79 L226.20,240.42 L226.20,243.05 L226.20,245.68 L226.20,248.31 L226.20,250.94 L226.20,253.57 L226.20,256.20 L226.20,258.83 L226.20,261.46 L226.20,264.09 L226.20,266.72 L226.20,269.35 L226.20,271.98 L226.20,274.61 L226.20,277.24 L226.20,279.87 L226.20,282.50 L226.20,285.13 L226.20,287.76 L226.20,290.39 L226.20,293.02 L226.20,295.65 L226.20,298.28 L226.20,300.91 L226.20,303.54 L226.20,306.17 L226.20,308.80 L226.20,311.43 L226.20,314.06 L226.20,316.69 L226.20,319.32 L226.20,321.95 L226.20,324.58 L226.20,327.21 L226.20,329.84 L226.20,332.47 L226.20,335.10 L226.20,337.73 L226.20,340.36 L226.20,342.99 L226.20,345.62 L226.20,348.25 L226.20,350.88 L226.20,353.51 L226.20,356.14 L226.20,358.77 L226.20,361.40 L226.20,364.03 L226.20,366.66 L226.20,369.29 L226.20,371.92 L226.20,374.55 L226.20,377.18 L226.20,379.81 L226.20,382.44 L226.20,385.07 L226.20,387.70 L226.20,390.33 L226.20,392.96 L226.20,395.59 L226.20,398.22 L226.20,400.85 L226.20,403.48 L226.20,406.11 L226.20,408.74 L226.20,411.37 L226.20,414.03 L226.21,415.94 L226.23,417.84 L226.28,419.74 L226.34,421.62 L226.42,423.50 L226.51,425.37 L226.63,427.24 L226.76,429.09 L226.90,430.94 L227.07,432.77 L227.25,434.60 L227.46,436.42 L227.67,438.24 L227.91,440.04 L228.17,441.84 L228.44,443.63 L228.73,445.40 L229.04,447.17 L229.37,448.94 L229.71,450.69 L230.07,452.43 L230.45,454.17 L230.85,455.90 L231.27,457.61 L231.71,459.32 L232.16,461.02 L232.64,462.71 L233.13,464.39 L233.64,466.06 L234.16,467.73 L234.71,469.38 L235.28,471.02 L235.86,472.66 L236.46,474.28 L237.08,475.89 L237.72,477.50 L238.38,479.09 L239.05,480.68 L239.75,482.25 L240.46,483.81 L241.19,485.37 L241.94,486.91 L242.71,488.44 L243.49,489.96 L244.30,491.48 L245.12,492.98 L245.96,494.46 L246.82,495.94 L247.70,497.41 L248.60,498.86 L249.51,500.31 L250.44,501.74 L251.39,503.16 L252.36,504.57 L253.34,505.97 L254.35,507.36 L255.37,508.73 L256.41,510.10 L257.46,511.45 L258.54,512.79 L259.63,514.11 L260.74,515.43 L261.86,516.73 L263.01,518.02 L264.17,519.30 L265.34,520.57 L266.54,521.82 L267.75,523.06 L268.97,524.29 L270.22,525.51 L271.48,526.72 L272.76,527.91 L274.05,529.09 L275.36,530.26 L276.69,531.41 L278.03,532.55 L279.39,533.68 L280.76,534.80 L282.15,535.91 L283.56,537.00 L284.98,538.08 L286.42,539.15 L287.87,540.20 L289.34,541.24 L290.83,542.27 L292.33,543.29 L293.84,544.30 L295.38,545.29 L296.92,546.27 L298.48,547.24 L300.06,548.20 L301.65,549.14 L303.26,550.08 L304.88,551.00 L306.52,551.91 L308.17,552.80 L309.84,553.69 L311.53,554.56 L313.22,555.42 L314.91,556.26 L316.05,556.81 L317.18,557.37 L318.32,557.92 L319.45,558.48 L320.59,559.04 L321.72,559.59 L322.86,560.15 L323.99,560.70 L325.12,561.26 L326.26,561.82 L327.39,562.37 L328.53,562.93 L329.66,563.48 L330.80,564.04 L331.93,564.60 L333.07,565.15 L334.20,565.71 L335.34,566.26 L336.47,566.82 L337.61,567.38 L338.74,567.93 L339.88,568.49 L341.01,569.04 L342.15,569.60 L343.28,570.16 L344.42,570.71 L345.55,571.27 L346.69,571.82 L347.82,572.38 L348.95,572.94 L350.09,573.49 L351.22,574.05 L352.36,574.60 L353.49,575.16 L354.63,575.72 L355.76,576.27 L356.90,576.83 L358.03,577.38 L359.17,577.94 L360.30,578.50 L361.44,579.05 L362.57,579.61 L363.71,580.16 L364.84,580.72 L365.98,581.28 L367.11,581.83 L368.25,582.39 L369.38,582.94 L370.52,583.50 L371.65,584.06 L372.78,584.61 L373.92,585.17 L375.05,585.72 L376.19,586.28 L377.32,586.84 L378.46,587.39 L379.59,587.95 L380.73,588.50 L381.86,589.06 L383.00,589.62 L384.13,590.17 L385.27,590.73 L386.40,591.28 L387.54,591.84 L388.67,592.40 L389.81,592.95 L390.94,593.51 L392.08,594.06 L393.21,594.62 L394.35,595.18 L395.48,595.73 L396.61,596.29 L397.75,596.84 L398.88,597.40 L400.02,597.96 L401.15,598.51 L402.29,599.07 L403.42,599.62 L404.56,600.18 L405.69,600.74 L406.83,601.29 L407.96,601.85 L409.10,602.40 L410.23,602.96 L411.37,603.52 L412.50,604.07 L413.64,604.63 L414.77,605.18 L415.91,605.74 L417.04,606.30 L418.18,606.85 L419.31,607.41 L420.44,607.96 L421.58,608.52 L422.71,609.08 L423.85,609.63 L424.98,610.19 L426.12,610.74 L427.25,611.30" fill="none" stroke="#000" stroke-opacity="0.22" stroke-width="3.0"/>
<path d="M260.80,151.00 L260.80,153.63 L260.80,156.26 L260.80,158.89 L260.80,161.52 L260.80,164.15 L260.80,166.78 L260.80,169.41 L260.80,172.04 L260.80,174.67 L260.80,177.30 L260.80,179.93 L260.80,182.56 L260.80,185.19 L260.80,187.82 L260.80,190.45 L260.80,193.08 L260.80,195.71 L260.80,198.34 L260.80,200.97 L260.80,203.60 L260.80,206.23 L260.80,208.86 L260.80,211.49 L260.80,214.12 L260.80,216.75 L260.80,219.38 L260.80,222.01 L260.80,224.64 L260.80,227.27 L260.80,229.90 L260.80,232.53 L260.80,235.16 L260.80,237.79 L260.80,240.42 L260.80,243.05 L260.80,245.68 L260.80,248.31 L260.80,250.94 L260.80,253.57 L260.80,256.20 L260.80,258.83 L260.80,261.46 L260.80,264.09 L260.80,266.72 L260.80,269.35 L260.80,271.98 L260.80,274.61 L260.80,277.24 L260.80,279.87 L260.80,282.50 L260.80,285.13 L260.80,287.76 L260.80,290.39 L260.80,293.02 L260.80,295.65 L260.80,298.28 L260.80,300.91 L260.80,303.54 L260.80,306.17 L260.80,308.80 L260.80,311.43 L260.80,314.06 L260.80,316.69 L260.80,319.32 L260.80,321.95 L260.80,324.58 L260.80,327.21 L260.80,329.84 L260.80,332.47 L260.80,335.10 L260.80,337.73 L260.80,340.36 L260.80,342.99 L260.80,345.62 L260.80,348.25 L260.80,350.88 L260.80,353.51 L260.80,356.14 L260.80,358.77 L260.80,361.40 L260.80,364.03 L260.80,366.66 L260.80,369.29 L260.80,371.92 L260.80,374.55 L260.80,377.18 L260.80,379.81 L260.80,382.44 L260.80,385.07 L260.80,387.70 L260.80,390.33 L260.80,392.96 L260.80,395.59 L260.80,398.22 L260.80,400.85 L260.80,403.48 L260.80,406.11 L260.80,408.74 L260.80,411.37 L260.80,413.97 L260.81,415.57 L260.83,417.16 L260.86,418.74 L260.91,420.30 L260.98,421.85 L261.06,423.39 L261.15,424.92 L261.25,426.44 L261.38,427.95 L261.51,429.44 L261.66,430.92 L261.82,432.40 L262.00,433.86 L262.19,435.31 L262.39,436.74 L262.61,438.17 L262.84,439.59 L263.08,440.99 L263.34,442.39 L263.61,443.77 L263.90,445.14 L264.19,446.50 L264.51,447.85 L264.83,449.19 L265.17,450.52 L265.52,451.84 L265.89,453.14 L266.26,454.44 L266.66,455.73 L267.06,457.00 L267.48,458.27 L267.91,459.52 L268.35,460.77 L268.81,462.01 L269.28,463.23 L269.76,464.45 L270.26,465.65 L270.77,466.85 L271.29,468.04 L271.83,469.22 L272.38,470.38 L272.94,471.54 L273.52,472.69 L274.10,473.83 L274.71,474.97 L275.32,476.09 L275.95,477.20 L276.59,478.31 L277.25,479.41 L277.92,480.50 L278.60,481.58 L279.29,482.65 L280.00,483.71 L280.73,484.77 L281.47,485.81 L282.22,486.85 L282.98,487.88 L283.76,488.91 L284.55,489.92 L285.36,490.93 L286.18,491.93 L287.02,492.92 L287.87,493.91 L288.73,494.89 L289.61,495.86 L290.50,496.82 L291.41,497.77 L292.33,498.72 L293.27,499.66 L294.22,500.59 L295.19,501.52 L296.18,502.44 L297.17,503.35 L298.19,504.25 L299.22,505.15 L300.26,506.04 L301.32,506.92 L302.39,507.80 L303.48,508.66 L304.59,509.52 L305.71,510.38 L306.85,511.22 L308.01,512.06 L309.18,512.89 L310.36,513.72 L311.56,514.53 L312.78,515.34 L314.02,516.14 L315.27,516.94 L316.53,517.72 L317.82,518.50 L319.12,519.27 L320.43,520.04 L321.77,520.80 L323.12,521.54 L324.48,522.29 L325.86,523.02 L327.26,523.74 L328.68,524.46 L330.14,525.18 L331.27,525.74 L332.41,526.30 L333.54,526.85 L334.67,527.41 L335.81,527.96 L336.94,528.52 L338.08,529.08 L339.21,529.63 L340.35,530.19 L341.48,530.74 L342.62,531.30 L343.75,531.86 L344.89,532.41 L346.02,532.97 L347.16,533.52 L348.29,534.08 L349.43,534.64 L350.56,535.19 L351.70,535.75 L352.83,536.30 L353.97,536.86 L355.10,537.42 L356.24,537.97 L357.37,538.53 L358.50,539.08 L359.64,539.64 L360.77,540.20 L361.91,540.75 L363.04,541.31 L364.18,541.86 L365.31,542.42 L366.45,542.98 L367.58,543.53 L368.72,544.09 L369.85,544.64 L370.99,545.20 L372.12,545.76 L373.26,546.31 L374.39,546.87 L375.53,547.42 L376.66,547.98 L377.80,548.54 L378.93,549.09 L380.07,549.65 L381.20,550.20 L382.33,550.76 L383.47,551.32 L384.60,551.87 L385.74,552.43 L386.87,552.98 L388.01,553.54 L389.14,554.10 L390.28,554.65 L391.41,555.21 L392.55,555.76 L393.68,556.32 L394.82,556.88 L395.95,557.43 L397.09,557.99 L398.22,558.55 L399.36,559.10 L400.49,559.66 L401.63,560.21 L402.76,560.77 L403.90,561.33 L405.03,561.88 L406.16,562.44 L407.30,562.99 L408.43,563.55 L409.57,564.11 L410.70,564.66 L411.84,565.22 L412.97,565.77 L414.11,566.33 L415.24,566.89 L416.38,567.44 L417.51,568.00 L418.65,568.55 L419.78,569.11 L420.92,569.67 L422.05,570.22 L423.19,570.78 L424.32,571.33 L425.46,571.89 L426.59,572.45 L427.73,573.00 L428.86,573.56 L429.99,574.11 L431.13,574.67 L432.26,575.23 L433.40,575.78 L434.53,576.34 L435.67,576.89 L436.80,577.45 L437.94,578.01 L439.07,578.56 L440.21,579.12 L441.34,579.67 L442.48,580.23" fill="none" stroke="#000" stroke-opacity="0.22" stroke-width="3.0"/>
<path d="M224.20,151.00 L224.20,153.63 L224.20,156.26 L224.20,158.89 L224.20,161.52 L224.20,164.15 L224.20,166.78 L224.20,169.41 L224.20,172.04 L224.20,174.67 L224.20,177.30 L224.20,179.93 L224.20,182.56 L224.20,185.19 L224.20,187.82 L224.20,190.45 L224.20,193.08 L224.20,195.71 L224.20,198.34 L224.20,200.97 L224.20,203.60 L224.20,206.23 L224.20,208.86 L224.20,211.49 L224.20,214.12 L224.20,216.75 L224.20,219.38 L224.20,222.01 L224.20,224.64 L224.20,227.27 L224.20,229.90 L224.20,232.53 L224.20,235.16 L224.20,237.79 L224.20,240.42 L224.20,243.05 L224.20,245.68 L224.20,248.31 L224.20,250.94 L224.20,253.57 L224.20,256.20 L224.20,258.83 L224.20,261.46 L224.20,264.09 L224.20,266.72 L224.20,269.35 L224.20,271.98 L224.20,274.61 L224.20,277.24 L224.20,279.87 L224.20,282.50 L224.20,285.13 L224.20,287.76 L224.20,290.39 L224.20,293.02 L224.20,295.65 L224.20,298.28 L224.20,300.91 L224.20,303.54 L224.20,306.17 L224.20,308.80 L224.20,311.43 L224.20,314.06 L224.20,316.69 L224.20,319.32 L224.20,321.95 L224.20,324.58 L224.20,327.21 L224.20,329.84 L224.20,332.47 L224.20,335.10 L224.20,337.73 L224.20,340.36 L224.20,342.99 L224.20,345.62 L224.20,348.25 L224.20,350.88 L224.20,353.51 L224.20,356.14 L224.20,358.77 L224.20,361.40 L224.20,364.03 L224.20,366.66 L224.20,369.29 L224.20,371.92 L224.20,374.55 L224.20,377.18 L224.20,379.81 L224.20,382.44 L224.20,385.07 L224.20,387.70 L224.20,390.33 L224.20,392.96 L224.20,395.59 L224.20,398.22 L224.20,400.85 L224.20,403.48 L224.20,406.11 L224.20,408.74 L224.20,411.37 L224.20,414.03 L224.21,415.96 L224.24,417.88 L224.28,419.79 L224.34,421.70 L224.42,423.60 L224.52,425.49 L224.63,427.37 L224.76,429.24 L224.91,431.11 L225.08,432.97 L225.27,434.82 L225.47,436.66 L225.69,438.49 L225.93,440.32 L226.19,442.13 L226.46,443.94 L226.76,445.74 L227.07,447.53 L227.40,449.31 L227.75,451.09 L228.12,452.86 L228.50,454.61 L228.91,456.36 L229.33,458.10 L229.77,459.83 L230.23,461.55 L230.71,463.26 L231.21,464.97 L231.73,466.66 L232.26,468.35 L232.82,470.02 L233.39,471.69 L233.98,473.34 L234.59,474.99 L235.22,476.63 L235.87,478.25 L236.53,479.87 L237.22,481.48 L237.92,483.07 L238.65,484.66 L239.39,486.23 L240.15,487.80 L240.93,489.35 L241.72,490.90 L242.54,492.43 L243.38,493.95 L244.23,495.46 L245.10,496.96 L245.99,498.45 L246.90,499.93 L247.83,501.39 L248.77,502.85 L249.74,504.29 L250.72,505.72 L251.72,507.14 L252.74,508.54 L253.77,509.94 L254.83,511.32 L255.90,512.69 L256.99,514.05 L258.09,515.40 L259.22,516.73 L260.36,518.05 L261.52,519.36 L262.69,520.66 L263.89,521.94 L265.10,523.21 L266.33,524.47 L267.57,525.72 L268.83,526.95 L270.11,528.17 L271.40,529.38 L272.71,530.58 L274.04,531.76 L275.38,532.93 L276.74,534.09 L278.12,535.23 L279.51,536.36 L280.92,537.48 L282.34,538.59 L283.78,539.68 L285.24,540.76 L286.71,541.83 L288.20,542.88 L289.70,543.93 L291.22,544.96 L292.75,545.97 L294.30,546.98 L295.86,547.97 L297.44,548.95 L299.04,549.92 L300.65,550.87 L302.27,551.81 L303.91,552.74 L305.56,553.66 L307.23,554.57 L308.92,555.46 L310.62,556.34 L312.33,557.21 L314.03,558.05 L315.17,558.61 L316.30,559.16 L317.44,559.72 L318.57,560.28 L319.71,560.83 L320.84,561.39 L321.98,561.94 L323.11,562.50 L324.24,563.06 L325.38,563.61 L326.51,564.17 L327.65,564.72 L328.78,565.28 L329.92,565.84 L331.05,566.39 L332.19,566.95 L333.32,567.50 L334.46,568.06 L335.59,568.62 L336.73,569.17 L337.86,569.73 L339.00,570.28 L340.13,570.84 L341.27,571.40 L342.40,571.95 L343.54,572.51 L344.67,573.06 L345.81,573.62 L346.94,574.18 L348.07,574.73 L349.21,575.29 L350.34,575.84 L351.48,576.40 L352.61,576.96 L353.75,577.51 L354.88,578.07 L356.02,578.62 L357.15,579.18 L358.29,579.74 L359.42,580.29 L360.56,580.85 L361.69,581.40 L362.83,581.96 L363.96,582.52 L365.10,583.07 L366.23,583.63 L367.37,584.18 L368.50,584.74 L369.64,585.30 L370.77,585.85 L371.90,586.41 L373.04,586.96 L374.17,587.52 L375.31,588.08 L376.44,588.63 L377.58,589.19 L378.71,589.74 L379.85,590.30 L380.98,590.86 L382.12,591.41 L383.25,591.97 L384.39,592.52 L385.52,593.08 L386.66,593.64 L387.79,594.19 L388.93,594.75 L390.06,595.30 L391.20,595.86 L392.33,596.42 L393.47,596.97 L394.60,597.53 L395.73,598.08 L396.87,598.64 L398.00,599.20 L399.14,599.75 L400.27,600.31 L401.41,600.86 L402.54,601.42 L403.68,601.98 L404.81,602.53 L405.95,603.09 L407.08,603.64 L408.22,604.20 L409.35,604.76 L410.49,605.31 L411.62,605.87 L412.76,606.42 L413.89,606.98 L415.03,607.54 L416.16,608.09 L417.30,608.65 L418.43,609.20 L419.56,609.76 L420.70,610.32 L421.83,610.87 L422.97,611.43 L424.10,611.98 L425.24,612.54 L426.37,613.10" fill="none" stroke="#1e1e1e" stroke-width="1.3"/>
<path d="M262.80,151.00 L262.80,153.63 L262.80,156.26 L262.80,158.89 L262.80,161.52 L262.80,164.15 L262.80,166.78 L262.80,169.41 L262.80,172.04 L262.80,174.67 L262.80,177.30 L262.80,179.93 L262.80,182.56 L262.80,185.19 L262.80,187.82 L262.80,190.45 L262.80,193.08 L262.80,195.71 L262.80,198.34 L262.80,200.97 L262.80,203.60 L262.80,206.23 L262.80,208.86 L262.80,211.49 L262.80,214.12 L262.80,216.75 L262.80,219.38 L262.80,222.01 L262.80,224.64 L262.80,227.27 L262.80,229.90 L262.80,232.53 L262.80,235.16 L262.80,237.79 L262.80,240.42 L262.80,243.05 L262.80,245.68 L262.80,248.31 L262.80,250.94 L262.80,253.57 L262.80,256.20 L262.80,258.83 L262.80,261.46 L262.80,264.09 L262.80,266.72 L262.80,269.35 L262.80,271.98 L262.80,274.61 L262.80,277.24 L262.80,279.87 L262.80,282.50 L262.80,285.13 L262.80,287.76 L262.80,290.39 L262.80,293.02 L262.80,295.65 L262.80,298.28 L262.80,300.91 L262.80,303.54 L262.80,306.17 L262.80,308.80 L262.80,311.43 L262.80,314.06 L262.80,316.69 L262.80,319.32 L262.80,321.95 L262.80,324.58 L262.80,327.21 L262.80,329.84 L262.80,332.47 L262.80,335.10 L262.80,337.73 L262.80,340.36 L262.80,342.99 L262.80,345.62 L262.80,348.25 L262.80,350.88 L262.80,353.51 L262.80,356.14 L262.80,358.77 L262.80,361.40 L262.80,364.03 L262.80,366.66 L262.80,369.29 L262.80,371.92 L262.80,374.55 L262.80,377.18 L262.80,379.81 L262.80,382.44 L262.80,385.07 L262.80,387.70 L262.80,390.33 L262.80,392.96 L262.80,395.59 L262.80,398.22 L262.80,400.85 L262.80,403.48 L262.80,406.11 L262.80,408.74 L262.80,411.37 L262.80,413.97 L262.81,415.55 L262.83,417.12 L262.86,418.68 L262.91,420.22 L262.98,421.76 L263.05,423.28 L263.14,424.79 L263.25,426.29 L263.37,427.77 L263.50,429.25 L263.65,430.71 L263.81,432.16 L263.98,433.60 L264.17,435.03 L264.37,436.45 L264.58,437.86 L264.81,439.25 L265.05,440.63 L265.30,442.01 L265.57,443.37 L265.85,444.72 L266.14,446.06 L266.45,447.39 L266.77,448.70 L267.10,450.01 L267.45,451.31 L267.81,452.59 L268.18,453.87 L268.56,455.13 L268.96,456.38 L269.37,457.63 L269.80,458.86 L270.23,460.08 L270.68,461.30 L271.14,462.50 L271.62,463.69 L272.10,464.88 L272.60,466.05 L273.12,467.22 L273.64,468.37 L274.18,469.52 L274.73,470.66 L275.30,471.78 L275.87,472.90 L276.46,474.01 L277.07,475.11 L277.68,476.21 L278.31,477.29 L278.96,478.37 L279.61,479.43 L280.28,480.49 L280.96,481.54 L281.66,482.59 L282.37,483.62 L283.09,484.65 L283.83,485.67 L284.58,486.68 L285.34,487.68 L286.12,488.68 L286.91,489.67 L287.72,490.65 L288.54,491.62 L289.37,492.59 L290.22,493.55 L291.08,494.50 L291.96,495.45 L292.85,496.38 L293.76,497.31 L294.68,498.24 L295.61,499.15 L296.56,500.06 L297.53,500.97 L298.51,501.86 L299.51,502.75 L300.52,503.63 L301.54,504.51 L302.59,505.37 L303.64,506.23 L304.72,507.09 L305.81,507.94 L306.91,508.78 L308.03,509.61 L309.17,510.43 L310.32,511.25 L311.49,512.06 L312.67,512.87 L313.88,513.67 L315.09,514.46 L316.33,515.24 L317.58,516.02 L318.84,516.79 L320.13,517.55 L321.43,518.30 L322.74,519.05 L324.07,519.79 L325.42,520.52 L326.79,521.25 L328.17,521.96 L329.57,522.67 L331.02,523.39 L332.15,523.94 L333.29,524.50 L334.42,525.06 L335.55,525.61 L336.69,526.17 L337.82,526.72 L338.96,527.28 L340.09,527.84 L341.23,528.39 L342.36,528.95 L343.50,529.50 L344.63,530.06 L345.77,530.62 L346.90,531.17 L348.04,531.73 L349.17,532.28 L350.31,532.84 L351.44,533.40 L352.58,533.95 L353.71,534.51 L354.85,535.06 L355.98,535.62 L357.12,536.18 L358.25,536.73 L359.38,537.29 L360.52,537.84 L361.65,538.40 L362.79,538.96 L363.92,539.51 L365.06,540.07 L366.19,540.62 L367.33,541.18 L368.46,541.74 L369.60,542.29 L370.73,542.85 L371.87,543.40 L373.00,543.96 L374.14,544.52 L375.27,545.07 L376.41,545.63 L377.54,546.18 L378.68,546.74 L379.81,547.30 L380.95,547.85 L382.08,548.41 L383.21,548.96 L384.35,549.52 L385.48,550.08 L386.62,550.63 L387.75,551.19 L388.89,551.74 L390.02,552.30 L391.16,552.86 L392.29,553.41 L393.43,553.97 L394.56,554.52 L395.70,555.08 L396.83,555.64 L397.97,556.19 L399.10,556.75 L400.24,557.31 L401.37,557.86 L402.51,558.42 L403.64,558.97 L404.78,559.53 L405.91,560.09 L407.04,560.64 L408.18,561.20 L409.31,561.75 L410.45,562.31 L411.58,562.87 L412.72,563.42 L413.85,563.98 L414.99,564.53 L416.12,565.09 L417.26,565.65 L418.39,566.20 L419.53,566.76 L420.66,567.31 L421.80,567.87 L422.93,568.43 L424.07,568.98 L425.20,569.54 L426.34,570.09 L427.47,570.65 L428.61,571.21 L429.74,571.76 L430.87,572.32 L432.01,572.87 L433.14,573.43 L434.28,573.99 L435.41,574.54 L436.55,575.10 L437.68,575.65 L438.82,576.21 L439.95,576.77 L441.09,577.32 L442.22,577.88 L443.36,578.43" fill="none" stroke="#1e1e1e" stroke-width="1.3"/>
<path d="M224.6,152 L225.4,118 Q233,113 244,115 Q256,118 262.5,124 L263.2,152 Q243.5,158 224.6,152 Z" fill="#fff" stroke="#1e1e1e" stroke-width="1"/>
<path d="M225.6,121 Q236,128 250,128.5" fill="none" stroke="#1e1e1e" stroke-width="0.8"/>
<path d="M216,99 Q218,106 227.5,109 L227.5,118 L240,118 L240,108 Z" fill="#fff" stroke="none"/>
<path d="M227.6,107 L227.6,118" fill="none" stroke="#1e1e1e" stroke-width="1"/>
<path d="M233.5,57.5 L258,64.3 L262,104 L238.5,111.5 L216,99.5 Q213.5,92 214.2,78 Q215.5,63 225,59 Q229,57.6 233.5,57.5 Z" fill="#fff" stroke="#1e1e1e" stroke-width="1"/>
<ellipse cx="0" cy="0" rx="36.83" ry="30.00" transform="translate(268.50,96.50) rotate(-68.61)" fill="#fff" stroke="#1e1e1e" stroke-width="1.0" />
<ellipse cx="0" cy="0" rx="36.83" ry="30.00" transform="translate(272.00,97.00) rotate(-68.61)" fill="#fff" stroke="#1e1e1e" stroke-width="1.0" />
<pattern id="thr" width="2.2" height="2.2" patternUnits="userSpaceOnUse" patternTransform="rotate(-62)"><rect width="2.2" height="2.2" fill="#b0b0b0"/><rect width="2.2" height="0.9" fill="#626262"/></pattern>
<ellipse cx="0" cy="0" rx="31.49" ry="26.29" transform="translate(273.50,97.50) rotate(-39.44)" fill="url(#thr)" stroke="#1e1e1e" stroke-width="0.9" />
<path d="M245.08,94.81 L245.58,93.16 L246.19,91.53 L246.88,89.92 L247.66,88.34 L248.54,86.78 L249.49,85.27 L250.53,83.79 L251.64,82.36 L252.83,80.98 L254.09,79.66 L255.42,78.40 L256.80,77.20 L258.24,76.07 L259.74,75.01 L261.28,74.03 L262.86,73.13 L264.48,72.32 L266.13,71.58 L267.80,70.94 L269.49,70.38 L271.20,69.92 L272.91,69.55 L274.63,69.27 L276.34,69.09 L278.04,69.01 L279.73,69.02 L281.40,69.13 L283.04,69.33 L284.64,69.63 L286.21,70.03" fill="none" stroke="#444" stroke-width="1.4"/>
<path d="M247.30,108.15 L246.96,106.75 L246.72,105.32 L246.57,103.86 L246.50,102.39 L246.53,100.89 L246.65,99.39 L246.86,97.88 L247.16,96.37 L247.55,94.86 L248.03,93.36 L248.59,91.87 L249.24,90.41 L249.97,88.96 L250.78,87.55 L251.66,86.17 L252.62,84.83 L253.65,83.53 L254.75,82.28 L255.91,81.08 L257.13,79.94 L258.41,78.85 L259.74,77.83 L261.11,76.87 L262.53,75.99 L263.98,75.18 L265.47,74.44 L266.98,73.78 L268.51,73.20 L270.06,72.70 L271.63,72.29" fill="none" stroke="#ddd" stroke-width="1.2" opacity="0.7"/>
<ellipse cx="0" cy="0" rx="50.46" ry="36.63" transform="translate(297.70,114.40) rotate(-71.18)" fill="#fff" stroke="#1e1e1e" stroke-width="1.0" />
<path d="M268.5,106 L275,104.3 M264.5,126 L271,124.6 M289,161.5 L293,158" stroke="#1e1e1e" stroke-width="0.8"/>
<ellipse cx="0" cy="0" rx="50.46" ry="36.63" transform="translate(308.70,117.40) rotate(-71.18)" fill="#fff" stroke="#1e1e1e" stroke-width="1.0" />
<path d="M277.26,112.37 L278.05,109.81 L278.94,107.29 L279.93,104.80 L281.02,102.37 L282.20,99.99 L283.47,97.67 L284.83,95.43 L286.27,93.26 L287.79,91.18 L289.38,89.19 L291.04,87.30 L292.76,85.51 L294.54,83.82 L296.37,82.26 L298.25,80.81 L300.17,79.48 L302.12,78.29 L304.10,77.22 L306.10,76.29 L308.12,75.49 L310.15,74.84 L312.18,74.33 L314.21,73.96 L316.23,73.74 L318.23,73.66 L320.22,73.73 L322.17,73.94 L324.09,74.30 L325.97,74.80 L327.80,75.45" fill="none" stroke="#1e1e1e" stroke-width="0.8"/>
<ellipse cx="0" cy="0" rx="30.57" ry="18.08" transform="translate(310.20,116.50) rotate(-63.33)" fill="#fff" stroke="#1e1e1e" stroke-width="1.0" />
<clipPath id="holeI"><ellipse cx="0" cy="0" rx="30.57" ry="18.08" transform="translate(310.20,116.50) rotate(-63.33)" fill="#fff" stroke="#1e1e1e" stroke-width="0" /></clipPath>
<g clip-path="url(#holeI)" fill="none" stroke="#1e1e1e" stroke-width="0.8"><path d="M317.5,90.7 C323,103 322,126 294,140"/><path d="M321.5,92.5 C327,105 326,128 297.5,143"/><path d="M313.7,95 Q300,108 289.6,129.3"/><path d="M320.7,115.4 L327.5,116.6 M321.5,98.5 L325.5,96.5"/></g>
<path d="M334.3,60 L334.3,95.5 L352,95.5 L352,60 Z" fill="#fff" stroke="none"/>
<g clip-path="url(#cliptop)"><path d="M233.4,13.1 L326,59.5 Q336.5,64.7 336.5,76 L336.5,95.5" fill="none" stroke="#1e1e1e" stroke-width="5.4" stroke-linejoin="round" stroke-linecap="butt"/><path d="M233.4,13.1 L326,59.5 Q336.5,64.7 336.5,76 L336.5,95.5" fill="none" stroke="#fff" stroke-width="3.2" stroke-linejoin="round" stroke-linecap="butt"/></g>
<path d="M333.7,78 L340.5,78 L340.5,95.5 L333.7,95.5 Z" fill="#fff"/>
<path d="M334.4,77 L334.4,95.5" stroke="#6a6a6a" stroke-width="1.1"/><path d="M338.7,77 L338.7,95.5" stroke="#a8a8a8" stroke-width="1.1"/>
<path d="M334.3,95 Q336,98 340,97.5 L347,96.5 Q356,96 363,106 " fill="none" stroke="#1e1e1e" stroke-width="1"/>
<ellipse cx="0" cy="0" rx="44.96" ry="30.63" transform="translate(366.30,146.30) rotate(-69.11)" fill="#fff" stroke="#1e1e1e" stroke-width="1.0" />
<ellipse cx="0" cy="0" rx="44.96" ry="30.63" transform="translate(368.00,147.00) rotate(-69.11)" fill="#fff" stroke="#1e1e1e" stroke-width="1.0" />
<ellipse cx="0" cy="0" rx="29.57" ry="19.04" transform="translate(367.30,146.30) rotate(-64.74)" fill="#fff" stroke="#1e1e1e" stroke-width="1.0" />
<clipPath id="holeJ"><ellipse cx="0" cy="0" rx="29.57" ry="19.04" transform="translate(367.30,146.30) rotate(-64.74)" fill="#fff" stroke="#1e1e1e" stroke-width="0" /></clipPath>
<g clip-path="url(#holeJ)" fill="none" stroke="#1e1e1e" stroke-width="0.8"><path d="M368.68,174.52 L366.48,175.04 L364.32,175.24 L362.24,175.15 L360.25,174.75 L358.38,174.04 L356.65,173.05 L355.08,171.77 L353.68,170.22 L352.47,168.43 L351.46,166.40 L350.67,164.16 L350.10,161.74 L349.76,159.16 L349.65,156.44 L349.78,153.63 L350.13,150.75 L350.72,147.84 L351.53,144.91 L352.55,142.01 L353.78,139.17 L355.19,136.42 L356.78,133.79 L358.52,131.31 L360.40,129.00 L362.39,126.89 L364.48,125.01 L366.64,123.37 L368.85,121.99 L371.09,120.89 L373.32,120.08"/><path d="M366,124 Q370,140 366,160"/></g>
<ellipse cx="0" cy="0" rx="53.26" ry="32.71" transform="translate(405.50,164.50) rotate(-64.12)" fill="#fff" stroke="#1e1e1e" stroke-width="1.0" />
<ellipse cx="0" cy="0" rx="37.52" ry="29.32" transform="translate(412.00,169.90) rotate(-67.11)" fill="none" stroke="#1e1e1e" stroke-width="1.0" />
<clipPath id="kh0"><ellipse cx="0" cy="0" rx="7.23" ry="4.80" transform="translate(417.80,155.50) rotate(-62.86)" fill="#fff" stroke="#1e1e1e" stroke-width="0" /></clipPath>
<ellipse cx="0" cy="0" rx="7.23" ry="4.80" transform="translate(417.80,155.50) rotate(-62.86)" fill="#9a9a9a" stroke="#1e1e1e" stroke-width="0.9" />
<g clip-path="url(#kh0)"><ellipse cx="0" cy="0" rx="7.23" ry="4.80" transform="translate(419.40,156.30) rotate(-62.86)" fill="#f4f4f4" stroke="#666" stroke-width="0.7" /></g>
<ellipse cx="0" cy="0" rx="7.23" ry="4.80" transform="translate(417.80,155.50) rotate(-62.86)" fill="none" stroke="#1e1e1e" stroke-width="0.9" />
<clipPath id="kh1"><ellipse cx="0" cy="0" rx="7.23" ry="4.80" transform="translate(430.00,157.90) rotate(-62.86)" fill="#fff" stroke="#1e1e1e" stroke-width="0" /></clipPath>
<ellipse cx="0" cy="0" rx="7.23" ry="4.80" transform="translate(430.00,157.90) rotate(-62.86)" fill="#9a9a9a" stroke="#1e1e1e" stroke-width="0.9" />
<g clip-path="url(#kh1)"><ellipse cx="0" cy="0" rx="7.23" ry="4.80" transform="translate(431.60,158.70) rotate(-62.86)" fill="#f4f4f4" stroke="#666" stroke-width="0.7" /></g>
<ellipse cx="0" cy="0" rx="7.23" ry="4.80" transform="translate(430.00,157.90) rotate(-62.86)" fill="none" stroke="#1e1e1e" stroke-width="0.9" />
<clipPath id="kh2"><ellipse cx="0" cy="0" rx="7.23" ry="4.80" transform="translate(406.00,169.70) rotate(-62.86)" fill="#fff" stroke="#1e1e1e" stroke-width="0" /></clipPath>
<ellipse cx="0" cy="0" rx="7.23" ry="4.80" transform="translate(406.00,169.70) rotate(-62.86)" fill="#9a9a9a" stroke="#1e1e1e" stroke-width="0.9" />
<g clip-path="url(#kh2)"><ellipse cx="0" cy="0" rx="7.23" ry="4.80" transform="translate(407.60,170.50) rotate(-62.86)" fill="#f4f4f4" stroke="#666" stroke-width="0.7" /></g>
<ellipse cx="0" cy="0" rx="7.23" ry="4.80" transform="translate(406.00,169.70) rotate(-62.86)" fill="none" stroke="#1e1e1e" stroke-width="0.9" />
<clipPath id="kh3"><ellipse cx="0" cy="0" rx="7.23" ry="4.80" transform="translate(431.10,174.40) rotate(-62.86)" fill="#fff" stroke="#1e1e1e" stroke-width="0" /></clipPath>
<ellipse cx="0" cy="0" rx="7.23" ry="4.80" transform="translate(431.10,174.40) rotate(-62.86)" fill="#9a9a9a" stroke="#1e1e1e" stroke-width="0.9" />
<g clip-path="url(#kh3)"><ellipse cx="0" cy="0" rx="7.23" ry="4.80" transform="translate(432.70,175.20) rotate(-62.86)" fill="#f4f4f4" stroke="#666" stroke-width="0.7" /></g>
<ellipse cx="0" cy="0" rx="7.23" ry="4.80" transform="translate(431.10,174.40) rotate(-62.86)" fill="none" stroke="#1e1e1e" stroke-width="0.9" />
<clipPath id="kh4"><ellipse cx="0" cy="0" rx="7.23" ry="4.80" transform="translate(406.00,186.90) rotate(-62.86)" fill="#fff" stroke="#1e1e1e" stroke-width="0" /></clipPath>
<ellipse cx="0" cy="0" rx="7.23" ry="4.80" transform="translate(406.00,186.90) rotate(-62.86)" fill="#9a9a9a" stroke="#1e1e1e" stroke-width="0.9" />
<g clip-path="url(#kh4)"><ellipse cx="0" cy="0" rx="7.23" ry="4.80" transform="translate(407.60,187.70) rotate(-62.86)" fill="#f4f4f4" stroke="#666" stroke-width="0.7" /></g>
<ellipse cx="0" cy="0" rx="7.23" ry="4.80" transform="translate(406.00,186.90) rotate(-62.86)" fill="none" stroke="#1e1e1e" stroke-width="0.9" />
<clipPath id="kh5"><ellipse cx="0" cy="0" rx="7.23" ry="4.80" transform="translate(415.40,190.00) rotate(-62.86)" fill="#fff" stroke="#1e1e1e" stroke-width="0" /></clipPath>
<ellipse cx="0" cy="0" rx="7.23" ry="4.80" transform="translate(415.40,190.00) rotate(-62.86)" fill="#9a9a9a" stroke="#1e1e1e" stroke-width="0.9" />
<g clip-path="url(#kh5)"><ellipse cx="0" cy="0" rx="7.23" ry="4.80" transform="translate(417.00,190.80) rotate(-62.86)" fill="#f4f4f4" stroke="#666" stroke-width="0.7" /></g>
<ellipse cx="0" cy="0" rx="7.23" ry="4.80" transform="translate(415.40,190.00) rotate(-62.86)" fill="none" stroke="#1e1e1e" stroke-width="0.9" />
<ellipse cx="0" cy="0" rx="5.90" ry="4.39" transform="translate(419.40,172.30) rotate(-45.00)" fill="#fff" stroke="#1e1e1e" stroke-width="0.9" />
<path d="M416.5,170 Q419,166.5 422.5,169.5 Q424,174 420.5,177" fill="none" stroke="#1e1e1e" stroke-width="1.3"/>
<g fill="#fff" stroke="#1e1e1e" stroke-width="1.2"><circle cx="420.50" cy="180.00" r="1.4"/><circle cx="420.47" cy="183.30" r="1.4"/><circle cx="420.44" cy="186.60" r="1.4"/><circle cx="420.41" cy="189.90" r="1.4"/><circle cx="420.39" cy="193.20" r="1.4"/><circle cx="420.36" cy="196.50" r="1.4"/><circle cx="420.34" cy="199.80" r="1.4"/><circle cx="420.32" cy="203.10" r="1.4"/><circle cx="420.31" cy="206.40" r="1.4"/><circle cx="420.30" cy="209.70" r="1.4"/><circle cx="420.30" cy="213.00" r="1.4"/><circle cx="420.30" cy="216.30" r="1.4"/><circle cx="420.30" cy="219.60" r="1.4"/><circle cx="420.30" cy="222.90" r="1.4"/><circle cx="420.30" cy="226.20" r="1.4"/><circle cx="420.30" cy="229.50" r="1.4"/><circle cx="420.31" cy="232.80" r="1.4"/><circle cx="420.31" cy="236.10" r="1.4"/><circle cx="420.32" cy="239.40" r="1.4"/><circle cx="420.33" cy="242.70" r="1.4"/><circle cx="420.35" cy="246.00" r="1.4"/><circle cx="420.37" cy="249.30" r="1.4"/><circle cx="420.40" cy="252.60" r="1.4"/><circle cx="420.44" cy="255.90" r="1.4"/><circle cx="420.48" cy="259.20" r="1.4"/><circle cx="420.53" cy="262.50" r="1.4"/><circle cx="420.60" cy="265.80" r="1.4"/><circle cx="420.66" cy="269.10" r="1.4"/><circle cx="420.73" cy="272.40" r="1.4"/><circle cx="420.79" cy="275.70" r="1.4"/><circle cx="420.86" cy="278.99" r="1.4"/><circle cx="420.93" cy="282.29" r="1.4"/><circle cx="421.00" cy="285.59" r="1.4"/><circle cx="421.08" cy="288.89" r="1.4"/><circle cx="421.18" cy="292.19" r="1.4"/><circle cx="421.29" cy="295.49" r="1.4"/><circle cx="421.41" cy="298.79" r="1.4"/><circle cx="421.55" cy="302.08" r="1.4"/><circle cx="421.72" cy="305.38" r="1.4"/><circle cx="421.90" cy="308.67" r="1.4"/><circle cx="422.12" cy="311.97" r="1.4"/><circle cx="422.36" cy="315.26" r="1.4"/><circle cx="422.63" cy="318.55" r="1.4"/><circle cx="422.93" cy="321.83" r="1.4"/><circle cx="423.25" cy="325.12" r="1.4"/><circle cx="423.59" cy="328.40" r="1.4"/><circle cx="423.95" cy="331.68" r="1.4"/><circle cx="424.32" cy="334.96" r="1.4"/><circle cx="424.72" cy="338.24" r="1.4"/><circle cx="425.14" cy="341.51" r="1.4"/><circle cx="425.57" cy="344.78" r="1.4"/><circle cx="426.03" cy="348.05" r="1.4"/><circle cx="426.50" cy="351.31" r="1.4"/><circle cx="427.00" cy="354.58" r="1.4"/><circle cx="427.53" cy="357.83" r="1.4"/><circle cx="428.09" cy="361.09" r="1.4"/><circle cx="428.68" cy="364.33" r="1.4"/><circle cx="429.32" cy="367.57" r="1.4"/><circle cx="430.01" cy="370.80" r="1.4"/><circle cx="430.77" cy="374.01" r="1.4"/><circle cx="431.59" cy="377.21" r="1.4"/><circle cx="432.47" cy="380.38" r="1.4"/><circle cx="433.43" cy="383.54" r="1.4"/><circle cx="434.45" cy="386.68" r="1.4"/><circle cx="435.55" cy="389.79" r="1.4"/><circle cx="436.72" cy="392.88" r="1.4"/><circle cx="437.97" cy="395.93" r="1.4"/><circle cx="439.32" cy="398.94" r="1.4"/><circle cx="440.83" cy="401.87" r="1.4"/><circle cx="442.59" cy="404.67" r="1.4"/><circle cx="444.75" cy="407.15" r="1.4"/><circle cx="447.64" cy="408.63" r="1.4"/><circle cx="450.80" cy="407.96" r="1.4"/><circle cx="453.18" cy="405.71" r="1.4"/><circle cx="454.79" cy="402.84" r="1.4"/><circle cx="455.89" cy="399.73" r="1.4"/><circle cx="456.67" cy="396.52" r="1.4"/><circle cx="457.28" cy="393.28" r="1.4"/><circle cx="457.78" cy="390.02" r="1.4"/><circle cx="458.22" cy="386.75" r="1.4"/><circle cx="458.62" cy="383.47" r="1.4"/><circle cx="458.98" cy="380.19" r="1.4"/><circle cx="459.32" cy="376.91" r="1.4"/><circle cx="459.64" cy="373.62" r="1.4"/><circle cx="459.97" cy="370.34" r="1.4"/><circle cx="460.27" cy="367.05" r="1.4"/><circle cx="460.52" cy="363.76" r="1.4"/><circle cx="460.75" cy="360.47" r="1.4"/><circle cx="460.95" cy="357.18" r="1.4"/><circle cx="461.14" cy="353.88" r="1.4"/><circle cx="461.32" cy="350.59" r="1.4"/><circle cx="461.49" cy="347.29" r="1.4"/><circle cx="461.66" cy="344.00" r="1.4"/><circle cx="461.83" cy="340.70" r="1.4"/><circle cx="462.02" cy="337.41" r="1.4"/><circle cx="462.21" cy="334.11" r="1.4"/><circle cx="462.44" cy="330.82" r="1.4"/><circle cx="462.69" cy="327.53" r="1.4"/><circle cx="462.96" cy="324.24" r="1.4"/><circle cx="463.23" cy="320.95" r="1.4"/><circle cx="463.52" cy="317.66" r="1.4"/><circle cx="463.85" cy="314.38" r="1.4"/><circle cx="464.23" cy="311.10" r="1.4"/><circle cx="464.69" cy="307.84" r="1.4"/><circle cx="465.27" cy="304.59" r="1.4"/><circle cx="465.98" cy="301.36" r="1.4"/><circle cx="466.92" cy="298.20" r="1.4"/><circle cx="468.27" cy="295.20" r="1.4"/><circle cx="470.19" cy="292.52" r="1.4"/><circle cx="472.85" cy="290.60" r="1.4"/><circle cx="475.90" cy="289.34" r="1.4"/><circle cx="479.10" cy="288.57" r="1.4"/><circle cx="482.39" cy="288.29" r="1.4"/><circle cx="485.68" cy="288.36" r="1.4"/><circle cx="488.87" cy="289.20" r="1.4"/></g>
<path d="M467.2,306 L467.8,313 Q472,330.5 500.5,330.5 Q530,330 533.8,313 L534.2,305 Z" fill="#fff" stroke="#1e1e1e" stroke-width="1"/>
<path d="M468.5,316 Q474,327.5 500.5,327.5 Q528,327 533,316 M470,320 Q478,328.5 500.5,328.8 Q524,328.5 531.5,320" fill="none" stroke="#444" stroke-width="0.8"/>
<ellipse cx="500.6" cy="305.2" rx="33.4" ry="17.4" fill="#fff" stroke="#1e1e1e" stroke-width="1"/>
<path d="M507,292.5 L507,300" stroke="#777" stroke-width="0.8"/>
<path d="M488.5,291.5 Q489,297 492,299.5 Q494,301 496.5,300.5" fill="none" stroke="#1e1e1e" stroke-width="2.2"/>
<path d="M488.5,291.5 Q489,297 492,299.5 Q494,301 496.5,300.5" fill="none" stroke="#fff" stroke-width="0.8"/>
<g fill="#fff" stroke="#1e1e1e" stroke-width="1.2"><circle cx="469.00" cy="294.00" r="1.4"/><circle cx="471.60" cy="291.97" r="1.4"/><circle cx="474.32" cy="290.10" r="1.4"/><circle cx="477.38" cy="288.90" r="1.4"/><circle cx="480.64" cy="288.39" r="1.4"/><circle cx="483.93" cy="288.27" r="1.4"/><circle cx="487.20" cy="288.66" r="1.4"/><circle cx="490.31" cy="289.76" r="1.4"/></g>
<path d="M495.9,341 L495.9,381 Q500.1,385 504.4,381 L504.4,341 Z" fill="#7a7a7a" stroke="#1e1e1e" stroke-width="0.9"/>
<path d="M500.1,343 L500.1,381" stroke="#b8b8b8" stroke-width="2.2"/>
<path d="M496.3,343 L504,344.6" stroke="#3a3a3a" stroke-width="0.7"/>
<path d="M496.3,346 L504,347.6" stroke="#3a3a3a" stroke-width="0.7"/>
<path d="M496.3,349 L504,350.6" stroke="#3a3a3a" stroke-width="0.7"/>
<path d="M496.3,352 L504,353.6" stroke="#3a3a3a" stroke-width="0.7"/>
<path d="M496.3,355 L504,356.6" stroke="#3a3a3a" stroke-width="0.7"/>
<path d="M496.3,358 L504,359.6" stroke="#3a3a3a" stroke-width="0.7"/>
<path d="M496.3,361 L504,362.6" stroke="#3a3a3a" stroke-width="0.7"/>
<path d="M496.3,364 L504,365.6" stroke="#3a3a3a" stroke-width="0.7"/>
<path d="M496.3,367 L504,368.6" stroke="#3a3a3a" stroke-width="0.7"/>
<path d="M496.3,370 L504,371.6" stroke="#3a3a3a" stroke-width="0.7"/>
<path d="M496.3,373 L504,374.6" stroke="#3a3a3a" stroke-width="0.7"/>
<path d="M496.3,376 L504,377.6" stroke="#3a3a3a" stroke-width="0.7"/>
<path d="M496.3,379 L504,380.6" stroke="#3a3a3a" stroke-width="0.7"/>
<path d="M494.5,338 L496.2,342.5 L504.1,342.5 L505.8,338 Z" fill="#fff" stroke="#1e1e1e" stroke-width="0.8"/>
<ellipse cx="500.1" cy="336.9" rx="6.4" ry="3.4" fill="#fff" stroke="#1e1e1e" stroke-width="0.9"/>
<path d="M497.5,336.9 L502.7,336.9 M497.5,335.5 L497.5,338.3 M502.7,335.5 L502.7,338.3" stroke="#1e1e1e" stroke-width="0.8"/>
<path d="M446,464.5 L446.3,469 Q450,489 500,489 Q550,489 554,469 L554.3,464.5 Z" fill="#fff" stroke="#1e1e1e" stroke-width="1"/>
<ellipse cx="500.2" cy="464.5" rx="54.1" ry="19.8" fill="#fff" stroke="#1e1e1e" stroke-width="1"/>
<ellipse cx="500" cy="465.7" rx="36" ry="13.3" fill="#fff" stroke="#1e1e1e" stroke-width="1"/>
<path d="M467,459 Q500,449 533,459" fill="none" stroke="#1e1e1e" stroke-width="0.8"/>
<path d="M446.2,428 Q452,447 478,453 Q500,457.5 522,453 Q549,447 553.8,427 Z" fill="#fff" stroke="#1e1e1e" stroke-width="1"/>
<ellipse cx="500" cy="426.7" rx="54" ry="25.2" fill="#fff" stroke="#1e1e1e" stroke-width="1"/>
<path d="M536.86,432.31 L536.53,433.41 L535.99,434.50 L535.26,435.57 L534.34,436.62 L533.24,437.63 L531.95,438.61 L530.49,439.55 L528.87,440.44 L527.09,441.28 L525.16,442.06 L523.10,442.78 L520.91,443.44 L518.61,444.02 L516.21,444.54 L513.73,444.98 L511.17,445.34 L508.56,445.63 L505.90,445.84 L503.20,445.96 L500.50,446.00 L497.80,445.96 L495.10,445.84 L492.44,445.63 L489.83,445.34 L487.27,444.98 L484.79,444.54 L482.39,444.02 L480.09,443.44 L477.90,442.78 L475.84,442.06 L473.91,441.28 L472.13,440.44 L470.51,439.55 L469.05,438.61 L467.76,437.63 L466.66,436.62 L465.74,435.57 L465.01,434.50 L464.47,433.41 L464.14,432.31" fill="none" stroke="#1e1e1e" stroke-width="0.9"/>
<ellipse cx="484.6" cy="433.1" rx="7.6" ry="3.6" fill="#fff" stroke="#1e1e1e" stroke-width="0.9"/>
<path d="M478.5,434.4 Q484.6,431.1 490.7,434.4" fill="none" stroke="#666" stroke-width="0.6"/>
<ellipse cx="506" cy="430.2" rx="7.6" ry="3.8" fill="#fff" stroke="#1e1e1e" stroke-width="0.9"/>
<path d="M499.9,431.5 Q506.0,428.1 512.1,431.5" fill="none" stroke="#666" stroke-width="0.6"/>
<ellipse cx="521.5" cy="437.9" rx="7.6" ry="3.8" fill="#fff" stroke="#1e1e1e" stroke-width="0.9"/>
<path d="M515.4,439.2 Q521.5,435.8 527.6,439.2" fill="none" stroke="#666" stroke-width="0.6"/>
<ellipse cx="482" cy="442.4" rx="6" ry="3" fill="#fff" stroke="#1e1e1e" stroke-width="0.9"/>
<path d="M477.2,443.4 Q482.0,440.8 486.8,443.4" fill="none" stroke="#666" stroke-width="0.6"/>
<ellipse cx="501" cy="443.4" rx="4.5" ry="2.6" fill="#fff" stroke="#1e1e1e" stroke-width="0.9"/>
<path d="M497.4,444.3 Q501.0,442.0 504.6,444.3" fill="none" stroke="#666" stroke-width="0.6"/>
<path d="M465.1,608 L465.1,649 L535,649 L535,608 Z" fill="#fff" stroke="none"/>
<path d="M465.1,608 L465.1,649 M535,649 L535,608" fill="none" stroke="#1e1e1e" stroke-width="1"/>
<path d="M465.5,624.4 Q500,639.4 534.5,624.4 M465.5,628.5 Q500,643.5 534.5,628.5" fill="none" stroke="#555" stroke-width="0.8"/>
<path d="M464.2,648 L464.2,679 Q500,695 535.7,679 L535.7,648 Z" fill="#fff" stroke="none"/>
<path d="M465.1,648 L464.2,650 L464.2,679 Q500,695 535.7,679 L535.7,650 L535,648" fill="none" stroke="#1e1e1e" stroke-width="1"/>
<path d="M464.6,659.7 Q500,674.7 535.3,659.7" fill="none" stroke="#4a4a4a" stroke-width="0.8"/>
<path d="M464.6,663.1 Q500,678.1 535.3,663.1" fill="none" stroke="#4a4a4a" stroke-width="0.8"/>
<path d="M464.6,666.5 Q500,681.5 535.3,666.5" fill="none" stroke="#4a4a4a" stroke-width="0.8"/>
<path d="M464.6,669.9 Q500,684.9 535.3,669.9" fill="none" stroke="#4a4a4a" stroke-width="0.8"/>
<path d="M464.6,673.3 Q500,688.3 535.3,673.3" fill="none" stroke="#4a4a4a" stroke-width="0.8"/>
<path d="M464.6,676.7 Q500,691.7 535.3,676.7" fill="none" stroke="#4a4a4a" stroke-width="0.8"/>
<path d="M464.2,679 Q500,695 535.7,679" fill="none" stroke="#1e1e1e" stroke-width="1"/>
<path d="M445.6,590 L445.9,595 Q450,614.6 499.5,614.6 Q549,614.6 553.3,595 L553.5,590 Z" fill="#fff" stroke="#1e1e1e" stroke-width="1"/>
<ellipse cx="499.5" cy="590" rx="54" ry="20" fill="#fff" stroke="#1e1e1e" stroke-width="1"/>
<ellipse cx="500.5" cy="589" rx="46.5" ry="16.3" fill="none" stroke="#444" stroke-width="0.8"/>
<path d="M461.4,585 Q464,601 501,602 Q538,601 541.3,584" fill="none" stroke="#555" stroke-width="0.8"/>
<path d="M466,588 Q470,598 490,600" fill="none" stroke="#888" stroke-width="0.7"/>
<path d="M492,603.5 Q495,599.5 503,599.5 Q509,600.5 508,604.5 Q504,607.5 497,607 Q492,606 492,603.5 Z" fill="#fff" stroke="#1e1e1e" stroke-width="0.9"/>
<path d="M500.5,600.5 L506.5,588.5 Q509,586 510.5,587.5 L507.5,601" fill="#fff" stroke="#1e1e1e" stroke-width="0.9"/>
<path d="M447,547 L447.3,552 Q451,578.6 500.5,578.6 Q550,578.6 553.7,552 L554,547 Z" fill="#fff" stroke="#1e1e1e" stroke-width="1"/>
<ellipse cx="500.5" cy="546.9" rx="53.5" ry="25.8" fill="#fff" stroke="#1e1e1e" stroke-width="1"/>
<ellipse cx="500" cy="547.8" rx="36" ry="17.2" fill="#fff" stroke="#1e1e1e" stroke-width="1"/>
<path d="M465.7,545 Q468,535.7 500,535.7 Q532,535.7 534.3,543.4" fill="none" stroke="#1e1e1e" stroke-width="0.8"/>
<path d="M481,561.5 Q500,559.5 519,561.5" fill="none" stroke="#555" stroke-width="0.8"/>
<g fill="none" stroke-linecap="butt"><path d="M468,505.5 C475,499 488,495.8 502,495.5" stroke="#1e1e1e" stroke-width="5.4" stroke-linejoin="miter"/><path d="M501,495.52 L502,495.5 C520,495.2 540,503 545.5,515 C548,522 545,527 541,530 L535.5,535 L625,578" stroke="#1e1e1e" stroke-width="5.4" stroke-linejoin="round"/><path d="M468,505.5 C475,499 488,495.8 502,495.5" stroke="#fff" stroke-width="3.2" stroke-linejoin="miter"/><path d="M501,495.52 L502,495.5 C520,495.2 540,503 545.5,515 C548,522 545,527 541,530 L535.5,535 L625,578" stroke="#fff" stroke-width="3.2" stroke-linejoin="round"/></g>
<path d="M444.5,579.0 L447.5,583 L447,600 L452,608 L452,625 L448.5,623.2 L427.5,613.7 Z" fill="#fff" stroke="none"/>
<path d="M444.5,579.0 L447.5,583 M427.5,613.7 L450,623.2 L451.2,627.4 L465.1,635.3 M451,607.5 Q448,614 449,621" fill="none" stroke="#1e1e1e" stroke-width="1"/>
<path d="M444.5,579.0 Q440.5,598.5 427.5,613.7" fill="none" stroke="#1e1e1e" stroke-width="0.9"/>
<path d="M447.2,582 Q445.6,585.5 445.6,590 L445.9,595 Q447,603 453,606" fill="none" stroke="#1e1e1e" stroke-width="1"/>
<text x="186.1" y="57.8" font-size="11.6" fill="#1e1e1e">H</text>
<line x1="195.4" y1="58.9" x2="210.74" y2="67.03" stroke="#1e1e1e" stroke-width="1.1"/>
<path d="M215.6,69.6 L209.71,68.97 L211.77,65.08 Z" fill="#1e1e1e"/>
<text x="352.6" y="70.8" font-size="11.6" fill="#1e1e1e">I</text>
<line x1="350" y1="71.4" x2="334.25" y2="81.36" stroke="#1e1e1e" stroke-width="1.1"/>
<path d="M329.6,84.3 L333.07,79.50 L335.42,83.22 Z" fill="#1e1e1e"/>
<text x="413.7" y="91.8" font-size="11.6" fill="#1e1e1e">J</text>
<line x1="412" y1="94" x2="397.55" y2="103.16" stroke="#1e1e1e" stroke-width="1.1"/>
<path d="M392.9,106.1 L396.37,101.30 L398.72,105.02 Z" fill="#1e1e1e"/>
<text x="452.7" y="105.3" font-size="11.6" fill="#1e1e1e">K</text>
<line x1="451.8" y1="106.8" x2="436.63" y2="115.79" stroke="#1e1e1e" stroke-width="1.1"/>
<path d="M431.9,118.6 L435.51,113.90 L437.75,117.69 Z" fill="#1e1e1e"/>
<text x="446.7" y="252.3" font-size="11.6" fill="#1e1e1e">L</text>
<line x1="445.1" y1="253.1" x2="430.00" y2="262.99" stroke="#1e1e1e" stroke-width="1.1"/>
<path d="M425.4,266 L428.80,261.15 L431.21,264.83 Z" fill="#1e1e1e"/>
<text x="285.3" y="290.7" font-size="11.6" fill="#1e1e1e">G</text>
<line x1="285" y1="291.4" x2="269.96" y2="301.53" stroke="#1e1e1e" stroke-width="1.1"/>
<path d="M265.4,304.6 L268.73,299.70 L271.19,303.35 Z" fill="#1e1e1e"/>
<text x="548.0" y="278.3" font-size="11.6" fill="#1e1e1e">A</text>
<line x1="546.4" y1="279.3" x2="531.03" y2="289.14" stroke="#1e1e1e" stroke-width="1.1"/>
<path d="M526.4,292.1 L529.85,287.28 L532.22,290.99 Z" fill="#1e1e1e"/>
<text x="526.1" y="354.9" font-size="11.6" fill="#1e1e1e">B</text>
<line x1="525.4" y1="357.4" x2="510.73" y2="366.83" stroke="#1e1e1e" stroke-width="1.1"/>
<path d="M506.1,369.8 L509.54,364.98 L511.92,368.68 Z" fill="#1e1e1e"/>
<text x="576.7" y="405.4" font-size="11.6" fill="#1e1e1e">C</text>
<line x1="574.7" y1="406.3" x2="559.61" y2="416.10" stroke="#1e1e1e" stroke-width="1.1"/>
<path d="M555,419.1 L558.41,414.26 L560.81,417.95 Z" fill="#1e1e1e"/>
<text x="576.7" y="438.8" font-size="11.6" fill="#1e1e1e">D</text>
<line x1="574.7" y1="440.1" x2="559.60" y2="449.99" stroke="#1e1e1e" stroke-width="1.1"/>
<path d="M555,453 L558.40,448.15 L560.81,451.83 Z" fill="#1e1e1e"/>
<text x="571.2" y="534.5" font-size="11.6" fill="#1e1e1e">E</text>
<line x1="568" y1="536.4" x2="553.91" y2="545.59" stroke="#1e1e1e" stroke-width="1.1"/>
<path d="M549.3,548.6 L552.70,543.75 L555.11,547.44 Z" fill="#1e1e1e"/>
<text x="578.9" y="574.4" font-size="11.6" fill="#1e1e1e">F</text>
<line x1="576.3" y1="575.6" x2="561.57" y2="585.44" stroke="#1e1e1e" stroke-width="1.1"/>
<path d="M557,588.5 L560.35,583.61 L562.80,587.27 Z" fill="#1e1e1e"/>
<text x="47.5" y="251" font-size="24" font-weight="bold" fill="#231f20" stroke="#231f20" stroke-width="0.6" textLength="56.4" lengthAdjust="spacingAndGlyphs">Parts</text>
<text x="108.8" y="251" font-size="24" font-weight="bold" fill="#231f20" stroke="#231f20" stroke-width="0.6" textLength="98.1" lengthAdjust="spacingAndGlyphs">Supplied</text>
<text x="47.6" y="268" font-size="11.2" fill="#231f20" stroke="#231f20" stroke-width="0.2" textLength="148.5" lengthAdjust="spacingAndGlyphs">(one of each of the following)</text>
<text x="47.6" y="289.00" font-size="12.5" font-weight="bold" fill="#231f20" stroke="#231f20" stroke-width="0.3">A.</text>
<text x="67.4" y="289.00" font-size="12.8" fill="#231f20" stroke="#231f20" stroke-width="0.3" textLength="26.8" lengthAdjust="spacingAndGlyphs">Plug</text>
<text x="47.6" y="305.25" font-size="12.5" font-weight="bold" fill="#231f20" stroke="#231f20" stroke-width="0.3">B.</text>
<text x="67.4" y="305.25" font-size="12.8" fill="#231f20" stroke="#231f20" stroke-width="0.3" textLength="34.8" lengthAdjust="spacingAndGlyphs">Screw</text>
<text x="47.6" y="321.50" font-size="12.5" font-weight="bold" fill="#231f20" stroke="#231f20" stroke-width="0.3">C.</text>
<text x="67.4" y="321.50" font-size="12.8" fill="#231f20" stroke="#231f20" stroke-width="0.3" textLength="78.8" lengthAdjust="spacingAndGlyphs">Waste grating</text>
<text x="47.6" y="337.75" font-size="12.5" font-weight="bold" fill="#231f20" stroke="#231f20" stroke-width="0.3">D.</text>
<text x="67.4" y="337.75" font-size="12.8" fill="#231f20" stroke="#231f20" stroke-width="0.3" textLength="87.4" lengthAdjust="spacingAndGlyphs">Grating washer</text>
<text x="47.6" y="354.00" font-size="12.5" font-weight="bold" fill="#231f20" stroke="#231f20" stroke-width="0.3">E.</text>
<text x="67.4" y="354.00" font-size="12.8" fill="#231f20" stroke="#231f20" stroke-width="0.3" textLength="84.8" lengthAdjust="spacingAndGlyphs">Ribbed washer</text>
<text x="47.6" y="370.25" font-size="12.5" font-weight="bold" fill="#231f20" stroke="#231f20" stroke-width="0.3">F.</text>
<text x="67.4" y="370.25" font-size="12.8" fill="#231f20" stroke="#231f20" stroke-width="0.3" textLength="67.4" lengthAdjust="spacingAndGlyphs">Waste body</text>
<text x="47.6" y="386.50" font-size="12.5" font-weight="bold" fill="#231f20" stroke="#231f20" stroke-width="0.3">G.</text>
<text x="67.4" y="386.50" font-size="12.8" fill="#231f20" stroke="#231f20" stroke-width="0.3" textLength="53.4" lengthAdjust="spacingAndGlyphs">Overflow</text>
<text x="47.6" y="402.75" font-size="12.5" font-weight="bold" fill="#231f20" stroke="#231f20" stroke-width="0.3">H.</text>
<text x="67.4" y="402.75" font-size="12.8" fill="#231f20" stroke="#231f20" stroke-width="0.3" textLength="84.8" lengthAdjust="spacingAndGlyphs">Overflow body</text>
<text x="47.6" y="419.00" font-size="12.5" font-weight="bold" fill="#231f20" stroke="#231f20" stroke-width="0.3">I.</text>
<text x="67.4" y="419.00" font-size="12.8" fill="#231f20" stroke="#231f20" stroke-width="0.3" textLength="65.4" lengthAdjust="spacingAndGlyphs">Flat washer</text>
<text x="47.6" y="435.25" font-size="12.5" font-weight="bold" fill="#231f20" stroke="#231f20" stroke-width="0.3">J.</text>
<text x="67.4" y="435.25" font-size="12.8" fill="#231f20" stroke="#231f20" stroke-width="0.3" textLength="96.8" lengthAdjust="spacingAndGlyphs">Overflow washer</text>
<text x="47.6" y="451.50" font-size="12.5" font-weight="bold" fill="#231f20" stroke="#231f20" stroke-width="0.3">K.</text>
<text x="67.4" y="451.50" font-size="12.8" fill="#231f20" stroke="#231f20" stroke-width="0.3" textLength="98.8" lengthAdjust="spacingAndGlyphs">Chrome overflow</text>
<text x="47.6" y="467.75" font-size="12.5" font-weight="bold" fill="#231f20" stroke="#231f20" stroke-width="0.3">L.</text>
<text x="67.4" y="467.75" font-size="12.8" fill="#231f20" stroke="#231f20" stroke-width="0.3" textLength="33.4" lengthAdjust="spacingAndGlyphs">Chain</text></svg>
</body></html>
